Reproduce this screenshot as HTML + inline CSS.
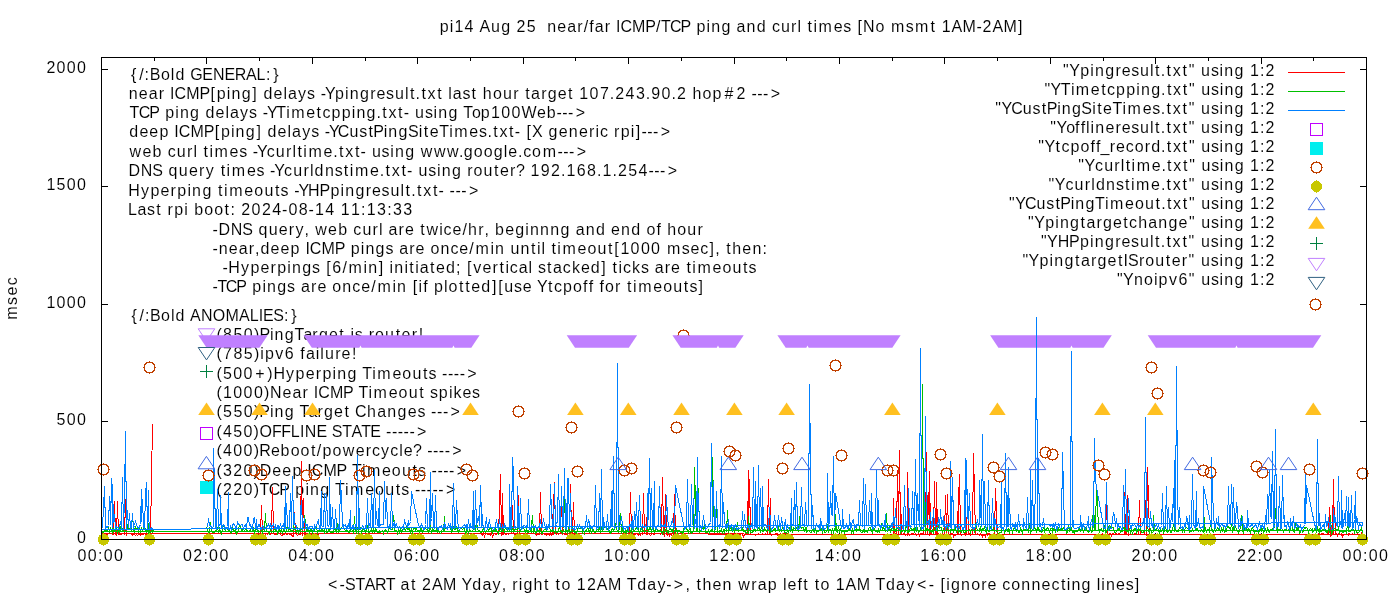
<!DOCTYPE html>
<html><head><meta charset="utf-8"><title>pi14 ping plot</title>
<style>html,body{margin:0;padding:0;background:#fff}svg{display:block}text{font-family:"Liberation Sans",sans-serif;font-size:16px;fill:#000;white-space:pre;stroke:#fff;stroke-width:0.08px;paint-order:fill stroke}svg{filter:grayscale(0)}g.tx{opacity:0.999}</style>
</head><body>
<svg width="1400" height="600" viewBox="0 0 1400 600">
<rect x="0" y="0" width="1400" height="600" fill="#fff"/>
<g stroke="#000" stroke-width="1" shape-rendering="crispEdges">
<line x1="101.5" y1="539.5" x2="101.5" y2="533.0"/>
<line x1="101.5" y1="57.5" x2="101.5" y2="64.0"/>
<line x1="154.2" y1="57.5" x2="154.2" y2="61.0"/>
<line x1="206.9" y1="539.5" x2="206.9" y2="533.0"/>
<line x1="206.9" y1="57.5" x2="206.9" y2="64.0"/>
<line x1="259.6" y1="57.5" x2="259.6" y2="61.0"/>
<line x1="312.3" y1="539.5" x2="312.3" y2="533.0"/>
<line x1="312.3" y1="57.5" x2="312.3" y2="64.0"/>
<line x1="365.0" y1="57.5" x2="365.0" y2="61.0"/>
<line x1="417.8" y1="539.5" x2="417.8" y2="533.0"/>
<line x1="417.8" y1="57.5" x2="417.8" y2="64.0"/>
<line x1="470.5" y1="57.5" x2="470.5" y2="61.0"/>
<line x1="523.2" y1="539.5" x2="523.2" y2="533.0"/>
<line x1="523.2" y1="57.5" x2="523.2" y2="64.0"/>
<line x1="575.9" y1="57.5" x2="575.9" y2="61.0"/>
<line x1="628.6" y1="539.5" x2="628.6" y2="533.0"/>
<line x1="628.6" y1="57.5" x2="628.6" y2="64.0"/>
<line x1="681.3" y1="57.5" x2="681.3" y2="61.0"/>
<line x1="734.0" y1="539.5" x2="734.0" y2="533.0"/>
<line x1="734.0" y1="57.5" x2="734.0" y2="64.0"/>
<line x1="786.7" y1="57.5" x2="786.7" y2="61.0"/>
<line x1="839.4" y1="539.5" x2="839.4" y2="533.0"/>
<line x1="839.4" y1="57.5" x2="839.4" y2="64.0"/>
<line x1="892.1" y1="57.5" x2="892.1" y2="61.0"/>
<line x1="944.8" y1="539.5" x2="944.8" y2="533.0"/>
<line x1="944.8" y1="57.5" x2="944.8" y2="64.0"/>
<line x1="997.5" y1="57.5" x2="997.5" y2="61.0"/>
<line x1="1050.2" y1="539.5" x2="1050.2" y2="533.0"/>
<line x1="1050.2" y1="57.5" x2="1050.2" y2="64.0"/>
<line x1="1103.0" y1="57.5" x2="1103.0" y2="61.0"/>
<line x1="1155.7" y1="539.5" x2="1155.7" y2="533.0"/>
<line x1="1155.7" y1="57.5" x2="1155.7" y2="64.0"/>
<line x1="1208.4" y1="57.5" x2="1208.4" y2="61.0"/>
<line x1="1261.1" y1="539.5" x2="1261.1" y2="533.0"/>
<line x1="1261.1" y1="57.5" x2="1261.1" y2="64.0"/>
<line x1="1313.8" y1="57.5" x2="1313.8" y2="61.0"/>
<line x1="1366.5" y1="539.5" x2="1366.5" y2="533.0"/>
<line x1="1366.5" y1="57.5" x2="1366.5" y2="64.0"/>
<line x1="101.5" y1="539.5" x2="108.0" y2="539.5"/>
<line x1="1366.5" y1="539.5" x2="1360.0" y2="539.5"/>
<line x1="101.5" y1="421.5" x2="108.0" y2="421.5"/>
<line x1="1366.5" y1="421.5" x2="1360.0" y2="421.5"/>
<line x1="101.5" y1="304.5" x2="108.0" y2="304.5"/>
<line x1="1366.5" y1="304.5" x2="1360.0" y2="304.5"/>
<line x1="101.5" y1="186.5" x2="108.0" y2="186.5"/>
<line x1="1366.5" y1="186.5" x2="1360.0" y2="186.5"/>
<line x1="101.5" y1="69.5" x2="108.0" y2="69.5"/>
<line x1="1366.5" y1="69.5" x2="1360.0" y2="69.5"/>
</g>
<g class="tx">
<text y="80.0" x="130.9 139.2 144.6 149.7 161.0 170.8 175.5 190.2 202.3 213.0 224.5 234.7 245.9 256.4 265.9 273.2">{/:BoldGENERAL:}</text>
<text y="98.8" x="128.7 138.8 148.7 158.8 170.1 174.6 186.3 199.5 210.6 216.7 226.7 231.4 241.7 252.2 263.4 273.5 283.4 287.9 298.1 307.1 320.7 325.0 335.0 345.0 349.7 360.0 370.2 376.5 386.0 394.9 404.9 409.9 415.6 421.4 427.6 437.3 448.3 452.8 462.4 471.6 482.8 492.9 502.9 513.2 525.2 531.1 541.2 547.7 557.7 568.1 579.3 589.6 599.9 609.8 615.3 625.6 635.9 645.8 651.3 661.6 671.5 677.0 692.4 702.5 712.6 724.5 736.4 751.4 757.2 763.1 770.7">nearICMP[ping]delays-Ypingresult.txtlasthourtarget107.243.90.2hop#2---&gt;</text>
<text y="118.1" x="129.6 138.8 149.2 165.2 175.2 179.9 190.1 205.5 215.6 225.5 230.0 240.1 249.1 262.7 266.9 276.2 286.2 291.2 306.2 316.6 322.4 331.5 341.7 351.7 356.4 366.6 376.5 382.3 388.4 398.1 403.7 415.1 424.9 433.5 438.2 448.4 463.2 472.1 480.8 491.0 501.3 511.5 521.5 537.1 546.7 556.5 562.3 568.1 575.8">TCPpingdelays-YTimetcpping.txt-usingTop100Web---&gt;</text>
<text y="137.4" x="129.3 139.4 149.3 159.4 174.3 178.8 190.5 203.7 214.8 220.9 230.9 235.6 245.8 256.4 267.5 277.6 287.5 292.1 302.2 311.2 324.8 329.0 337.8 349.4 359.2 368.4 373.3 383.8 388.3 398.5 407.9 418.8 423.8 429.7 439.2 449.2 454.2 469.3 478.9 487.4 493.2 499.4 509.1 514.7 526.4 531.9 548.6 558.7 568.8 578.9 589.0 595.4 599.9 614.1 620.8 630.8 635.8 641.4 647.2 653.1 660.8">deepICMP[ping]delays-YCustPingSiteTimes.txt-[Xgenericrpi]---&gt;</text>
<text y="156.7" x="129.6 142.5 152.6 167.7 176.8 187.0 193.5 203.5 209.4 214.6 229.6 239.2 252.8 257.0 266.8 275.8 286.1 292.5 297.4 303.3 308.5 323.5 333.3 339.0 345.2 354.9 360.5 371.9 381.6 390.3 394.9 405.2 420.7 433.9 447.1 459.0 463.7 473.8 483.7 493.7 503.7 508.3 518.0 523.2 532.1 542.7 557.5 563.3 569.1 576.8">webcurltimes-Ycurltime.txt-usingwww.google.com---&gt;</text>
<text y="176.0" x="128.4 140.7 152.3 168.6 178.8 188.9 199.0 205.8 220.7 226.6 231.8 246.9 256.5 270.1 274.3 284.1 293.2 303.5 309.9 314.6 324.9 334.7 343.8 349.7 354.9 370.0 379.8 385.5 391.7 401.5 407.1 418.5 428.3 437.0 441.7 451.9 467.3 473.6 483.5 494.1 500.0 510.1 515.9 530.5 540.8 551.1 561.0 566.5 576.8 587.1 597.0 602.5 612.5 617.9 628.2 638.5 648.4 654.2 660.1 667.7">DNSquerytimes-Ycurldnstime.txt-usingrouter?192.168.1.254---&gt;</text>
<text y="195.7" x="128.2 140.9 150.4 160.5 170.6 177.3 187.4 192.1 202.4 218.1 224.0 229.2 244.3 254.3 264.4 274.9 280.5 294.2 298.4 308.1 319.5 330.4 340.5 345.2 355.5 365.7 372.1 381.6 390.5 400.5 405.5 411.3 417.0 423.2 433.0 438.6 449.6 455.5 461.3 469.0">Hyperpingtimeouts-YHPpingresult.txt----&gt;</text>
<text y="214.6" x="128.0 137.5 147.1 156.3 167.5 174.2 184.3 194.2 204.3 214.2 224.6 230.5 241.3 251.6 261.9 272.2 282.1 288.4 298.7 308.6 314.9 325.2 340.7 351.0 361.1 366.8 377.1 387.2 392.9 403.2">Lastrpiboot:2024-08-1411:13:33</text>
<text y="235.0" x="212.5 218.4 230.7 242.2 258.4 268.7 278.7 288.8 295.5 304.6 315.3 328.1 338.2 353.3 362.4 372.6 379.0 388.6 398.6 404.9 420.2 426.4 439.2 443.6 452.6 462.5 468.0 478.2 484.5 495.1 505.2 515.2 525.2 529.9 540.1 550.3 560.5 575.7 585.7 595.9 611.1 621.1 631.3 646.5 656.5 667.3 677.3 687.3 697.5">-DNSquery,webcurlaretwice/hr,beginnngandendofhour</text>
<text y="254.0" x="212.5 218.7 228.8 238.7 248.7 255.0 260.5 270.6 280.5 290.5 305.4 309.8 321.5 334.7 350.7 360.7 365.4 375.6 385.4 399.2 409.2 415.5 430.4 440.4 450.4 459.3 469.3 475.4 490.4 495.0 510.4 520.6 531.1 536.9 541.4 551.5 557.3 562.5 577.6 587.5 597.5 608.0 614.3 620.4 630.6 640.9 651.1 667.0 681.7 690.4 700.3 709.6 715.3 726.2 732.2 742.3 752.4 762.4">-near,deepICMPpingsareonce/minuntiltimeout[1000msec],then:</text>
<text y="273.0" x="222.5 228.3 241.0 250.4 260.5 270.6 277.2 287.3 291.9 302.2 312.0 326.2 332.3 342.4 348.5 363.5 368.2 378.7 389.6 394.3 404.4 409.3 415.2 419.7 430.0 435.9 446.0 456.1 467.1 473.2 482.5 492.6 499.5 505.4 509.8 518.8 528.6 538.0 547.1 553.0 562.8 571.9 580.9 590.7 601.2 612.6 618.4 622.9 632.0 640.9 654.7 664.8 671.1 686.4 692.3 697.5 712.5 722.4 732.5 743.0 748.6">-Hyperpings[6/min]initiated;[verticalstacked]ticksaretimeouts</text>
<text y="292.0" x="212.5 217.4 225.8 236.3 252.3 262.4 267.1 277.3 287.1 301.0 311.0 317.4 332.2 342.3 352.3 361.3 371.2 377.4 392.4 397.1 412.7 418.6 423.2 434.1 444.1 448.6 459.0 465.3 471.2 481.3 491.9 498.2 504.2 514.0 522.7 536.9 548.1 553.9 563.1 573.1 583.1 588.7 599.4 605.0 615.0 627.1 633.0 638.2 653.3 663.2 673.2 683.8 689.4 698.5">-TCPpingsareonce/min[ifplotted][useYtcpofffortimeouts]</text>
<text y="320.7" x="131.4 139.6 144.9 149.9 161.1 170.9 175.5 190.1 201.0 212.8 225.5 239.1 249.8 258.8 263.1 273.2 284.0 291.3">{/:BoldANOMALIES:}</text>
<text y="339.8" x="216.5 223.1 233.5 243.8 253.9 259.4 269.9 274.5 284.8 294.5 303.5 312.3 318.9 328.9 339.3 350.4 354.7 368.8 375.1 385.1 395.7 401.6 411.8 418.8">(850)PingTargetisrouter!</text>
<text y="359.2" x="216.5 223.1 233.4 243.7 253.9 260.2 264.9 275.3 284.8 300.2 305.9 315.8 320.3 325.0 335.3 341.6 351.9">(785)ipv6failure!</text>
<text y="378.6" x="216.5 223.0 233.3 243.6 255.3 267.3 273.4 286.1 295.5 305.7 315.7 322.4 332.5 337.2 347.5 362.2 372.3 377.3 392.4 402.3 412.4 422.9 428.5 442.1 448.0 453.8 459.7 467.3">(500+)HyperpingTimeouts----&gt;</text>
<text y="398.0" x="216.5 223.0 233.3 243.6 253.9 264.0 270.1 282.4 292.4 302.4 313.7 318.2 330.0 343.1 358.5 368.6 373.6 388.7 398.6 408.7 419.2 429.9 438.8 448.9 453.6 462.5 471.9">(1000)NearICMPTimeoutspikes</text>
<text y="417.4" x="216.5 223.1 233.4 243.8 253.9 259.3 269.9 274.4 284.7 299.6 308.6 317.4 324.0 334.0 344.4 354.9 367.0 377.2 387.3 397.6 407.8 417.5 431.1 437.0 442.9 450.6">(550)PingTargetChanges---&gt;</text>
<text y="436.8" x="216.5 223.0 233.3 243.6 253.6 259.6 271.9 281.2 290.8 299.9 304.8 316.4 331.7 342.2 351.6 361.3 370.2 386.1 391.9 397.7 403.6 409.4 417.1">(450)OFFLINESTATE-----&gt;</text>
<text y="456.2" x="216.5 223.0 233.3 243.6 253.7 259.3 270.9 280.6 290.7 300.6 310.9 316.8 322.5 332.5 342.8 355.7 365.8 372.0 381.1 390.3 399.2 403.8 413.0 427.2 433.0 438.8 444.7 452.3">(400)Reboot/powercycle?----&gt;</text>
<text y="475.6" x="216.5 223.0 233.3 243.5 253.6 259.8 272.3 282.3 292.4 307.2 311.7 323.4 336.5 351.9 361.9 366.9 381.9 391.8 401.9 412.4 418.0 431.5 437.4 443.2 449.0 456.7">(320)DeepICMPTimeouts----&gt;</text>
<text y="495.0" x="216.5 223.0 233.3 243.6 253.7 259.6 268.8 279.3 295.3 305.4 310.1 320.3 335.1 345.1 350.1 365.2 375.1 385.2 395.7 401.3 414.9 420.8 426.6 432.4 438.3 445.9">(220)TCPpingTimeouts-----&gt;</text>
</g>
<text y="31.5" x="439.7 449.7 454.4 464.6 479.5 491.0 501.2 516.5 526.8 547.2 557.3 567.2 577.2 583.7 589.2 594.7 604.8 616.0 620.5 632.1 645.3 655.9 660.9 670.1 680.5 696.5 706.5 711.2 721.4 736.5 746.6 756.8 771.9 780.9 791.1 797.6 807.6 813.5 818.6 833.7 843.2 857.5 863.1 875.4 891.0 905.7 915.1 930.5 941.7 951.4 962.5 976.4 982.6 992.4 1003.5 1018.0">pi14Aug25near/farICMP/TCPpingandcurltimes[Nomsmt1AM-2AM]</text>
<text y="589.5" x="327.9 339.6 344.9 355.4 364.8 374.9 385.7 400.6 410.9 422.1 431.9 443.0 461.4 472.3 482.4 492.6 501.7 512.3 518.7 523.4 533.6 544.1 555.6 561.5 576.7 586.9 596.7 607.9 626.7 637.2 647.2 657.4 666.3 673.8 685.6 696.4 702.5 712.6 722.6 738.2 751.2 757.7 767.7 782.9 787.4 797.5 803.3 814.7 820.5 835.7 845.5 856.7 875.5 885.9 896.0 906.2 917.1 928.7 940.4 946.2 950.9 961.1 971.2 981.2 987.5 1002.3 1011.3 1021.3 1031.6 1041.6 1051.5 1060.9 1066.7 1071.4 1081.6 1096.8 1101.3 1106.0 1116.1 1125.7 1134.8">&lt;-STARTat2AMYday,rightto12AMTday-&gt;,thenwrapleftto1AMTday&lt;-[ignoreconnectinglines]</text>
<text y="561.3" x="77.5 87.8 98.0 103.7 114.0">00:00</text>
<text y="561.3" x="182.9 193.2 203.4 209.1 219.5">02:00</text>
<text y="561.3" x="288.3 298.7 308.8 314.5 324.9">04:00</text>
<text y="561.3" x="393.7 404.1 414.2 419.9 430.3">06:00</text>
<text y="561.3" x="499.1 509.5 519.6 525.3 535.7">08:00</text>
<text y="561.3" x="603.9 614.4 624.7 630.5 641.0">10:00</text>
<text y="561.3" x="709.3 719.9 730.1 735.9 746.5">12:00</text>
<text y="561.3" x="814.8 825.3 835.5 841.4 851.9">14:00</text>
<text y="561.3" x="920.2 930.7 941.0 946.8 957.3">16:00</text>
<text y="561.3" x="1025.6 1036.1 1046.4 1052.2 1062.7">18:00</text>
<text y="561.3" x="1131.5 1141.9 1152.1 1157.8 1168.2">20:00</text>
<text y="561.3" x="1237.0 1247.3 1257.5 1263.2 1273.6">22:00</text>
<text y="561.3" x="1342.5 1352.8 1363.0 1368.7 1379.0">00:00</text>
<text y="542.9" x="76.9">0</text>
<text y="424.9" x="56.6 66.7 76.9">500</text>
<text y="307.9" x="46.4 56.6 66.7 76.9">1000</text>
<text y="189.9" x="46.4 56.6 66.7 76.9">1500</text>
<text y="72.9" x="46.4 56.6 66.7 76.9">2000</text>
<text transform="translate(16.6,298.5) rotate(-90)" x="-21.2" y="0" textLength="42.4" lengthAdjust="spacing">msec</text>
<polyline points="255.5,533.5 256.5,534.5 256.5,534.5 257.5,533.5 258.5,534.5 259.5,533.5 260.5,534.5 261.5,505.5 262.5,533.5 263.5,534.5 264.5,535.5 264.5,536.5 265.5,534.5 266.5,533.5 267.5,534.5 268.5,533.5 269.5,534.5 270.5,534.5 271.5,533.5 271.5,533.5 272.5,487.5 273.5,533.5 274.5,534.5 275.5,534.5 276.5,534.5 277.5,533.5 278.5,533.5 278.5,533.5 279.5,533.5 280.5,534.5 281.5,535.5 282.5,535.5 283.5,533.5 284.5,534.5 285.5,533.5 285.5,533.5 286.5,534.5 287.5,534.5 288.5,533.5 289.5,534.5 290.5,534.5 291.5,534.5 292.5,536.5 293.5,536.5 293.5,533.5 294.5,512.5 295.5,533.5 296.5,534.5 297.5,535.5 298.5,534.5 299.5,534.5 300.5,533.5 300.5,534.5 301.5,461.5 302.5,535.5 303.5,498.5 304.5,535.5 305.5,533.5 306.5,535.5 307.5,535.5 307.5,534.5 308.5,533.5 309.5,534.5 310.5,534.5 311.5,534.5 312.5,535.5 313.5,534.5 314.5,533.5 314.5,534.5 315.5,536.5 316.5,535.5 317.5,533.5 318.5,534.5 319.5,533.5 480.5,533.5 481.5,533.5 481.5,534.5 482.5,535.5 483.5,533.5 484.5,536.5 485.5,533.5 486.5,533.5 487.5,534.5 488.5,533.5 488.5,534.5 489.5,534.5 490.5,535.5 491.5,533.5 492.5,536.5 493.5,534.5 494.5,533.5 495.5,534.5 495.5,534.5 496.5,534.5 497.5,533.5 498.5,533.5 499.5,505.5 500.5,474.5 501.5,535.5 502.5,533.5 502.5,493.5 503.5,534.5 504.5,533.5 505.5,534.5 506.5,534.5 507.5,533.5 508.5,534.5 509.5,533.5 509.5,533.5 510.5,533.5 511.5,533.5 512.5,505.5 513.5,533.5 514.5,534.5 515.5,534.5 516.5,533.5 517.5,534.5 517.5,534.5 518.5,495.5 519.5,533.5 520.5,534.5 521.5,533.5 535.5,533.5 536.5,535.5 537.5,534.5 538.5,533.5 538.5,534.5 539.5,534.5 540.5,492.5 541.5,534.5 542.5,534.5 543.5,533.5 544.5,534.5 545.5,533.5 546.5,535.5 546.5,534.5 547.5,534.5 548.5,534.5 549.5,535.5 550.5,533.5 551.5,535.5 552.5,534.5 553.5,494.5 553.5,534.5 554.5,482.5 555.5,533.5 556.5,534.5 557.5,533.5 558.5,534.5 559.5,533.5 560.5,533.5 560.5,533.5 561.5,498.5 562.5,534.5 563.5,533.5 564.5,534.5 565.5,534.5 566.5,534.5 567.5,533.5 567.5,535.5 568.5,536.5 569.5,534.5 570.5,484.5 571.5,534.5 572.5,533.5 573.5,502.5 574.5,536.5 574.5,534.5 575.5,533.5 576.5,534.5 577.5,533.5 626.5,533.5 627.5,533.5 628.5,533.5 629.5,534.5 630.5,492.5 631.5,534.5 632.5,535.5 632.5,535.5 633.5,533.5 634.5,534.5 635.5,534.5 636.5,533.5 637.5,534.5 638.5,535.5 639.5,533.5 640.5,535.5 640.5,533.5 641.5,533.5 642.5,534.5 643.5,493.5 644.5,533.5 645.5,533.5 646.5,534.5 647.5,500.5 647.5,534.5 648.5,533.5 649.5,534.5 650.5,535.5 651.5,534.5 652.5,533.5 653.5,534.5 654.5,534.5 654.5,533.5 655.5,533.5 656.5,533.5 657.5,533.5 658.5,533.5 659.5,533.5 660.5,534.5 661.5,533.5 661.5,533.5 662.5,477.5 663.5,533.5 664.5,536.5 665.5,494.5 666.5,533.5 667.5,535.5 668.5,534.5 668.5,533.5 669.5,535.5 670.5,533.5 671.5,534.5 672.5,536.5 673.5,533.5 674.5,494.5 675.5,534.5 676.5,534.5 676.5,533.5 738.5,534.5 739.5,534.5 740.5,534.5 741.5,533.5 741.5,533.5 742.5,534.5 743.5,536.5 744.5,534.5 745.5,533.5 746.5,534.5 747.5,534.5 748.5,470.5 748.5,533.5 749.5,479.5 750.5,534.5 751.5,534.5 752.5,534.5 753.5,534.5 754.5,534.5 755.5,535.5 755.5,534.5 756.5,534.5 757.5,534.5 758.5,533.5 759.5,534.5 760.5,534.5 761.5,534.5 762.5,533.5 762.5,534.5 763.5,534.5 764.5,534.5 765.5,533.5 766.5,534.5 767.5,533.5 768.5,479.5 769.5,533.5 770.5,498.5 770.5,534.5 771.5,535.5 772.5,534.5 773.5,534.5 774.5,534.5 775.5,533.5 776.5,533.5 777.5,535.5 777.5,533.5 778.5,534.5 779.5,536.5 780.5,533.5 781.5,534.5 782.5,534.5 783.5,533.5 784.5,534.5 784.5,533.5 785.5,533.5 786.5,533.5 787.5,533.5 788.5,533.5 789.5,534.5 890.5,534.5 891.5,534.5 892.5,534.5 893.5,534.5 893.5,498.5 894.5,534.5 895.5,533.5 896.5,534.5 897.5,470.5 898.5,533.5 899.5,450.5 900.5,533.5 900.5,492.5 901.5,534.5 902.5,534.5 903.5,533.5 904.5,533.5 905.5,535.5 906.5,534.5 907.5,535.5 907.5,472.5 908.5,533.5 909.5,535.5 910.5,534.5 911.5,533.5 912.5,533.5 913.5,533.5 914.5,534.5 914.5,534.5 915.5,533.5 916.5,535.5 917.5,534.5 918.5,533.5 919.5,535.5 920.5,533.5 921.5,533.5 921.5,534.5 922.5,533.5 923.5,534.5 924.5,493.5 925.5,534.5 926.5,452.5 927.5,534.5 928.5,492.5 929.5,535.5 929.5,471.5 930.5,534.5 931.5,533.5 932.5,534.5 933.5,534.5 934.5,481.5 935.5,534.5 936.5,533.5 936.5,482.5 937.5,534.5 938.5,533.5 939.5,534.5 940.5,534.5 941.5,534.5 942.5,533.5 943.5,534.5 943.5,534.5 944.5,534.5 945.5,495.5 946.5,533.5 947.5,494.5 948.5,534.5 949.5,534.5 950.5,533.5 950.5,534.5 951.5,533.5 952.5,533.5 953.5,536.5 954.5,534.5 955.5,535.5 956.5,534.5 957.5,534.5 958.5,487.5 958.5,534.5 959.5,474.5 960.5,534.5 961.5,535.5 962.5,534.5 963.5,534.5 964.5,533.5 965.5,533.5 965.5,535.5 966.5,534.5 967.5,500.5 968.5,534.5 969.5,533.5 970.5,535.5 971.5,534.5 972.5,534.5 972.5,533.5 973.5,453.5 974.5,493.5 975.5,534.5 976.5,534.5 977.5,533.5 978.5,534.5 979.5,534.5 979.5,535.5 980.5,533.5 981.5,534.5 982.5,536.5 983.5,534.5 984.5,534.5 985.5,536.5 986.5,533.5 987.5,535.5 987.5,533.5 988.5,533.5 989.5,533.5 990.5,535.5 991.5,534.5 992.5,534.5 993.5,534.5 994.5,533.5 994.5,534.5 995.5,488.5 996.5,512.5 997.5,534.5 998.5,533.5 999.5,534.5 1100.5,534.5 1101.5,534.5 1102.5,533.5 1102.5,536.5 1103.5,534.5 1104.5,534.5 1105.5,534.5 1106.5,505.5 1107.5,534.5 1108.5,534.5 1109.5,533.5 1109.5,533.5 1110.5,533.5 1111.5,535.5 1112.5,533.5 1113.5,533.5 1114.5,534.5 1115.5,533.5 1116.5,533.5 1117.5,534.5 1117.5,534.5 1118.5,533.5 1119.5,533.5 1120.5,534.5 1121.5,534.5 1122.5,534.5 1123.5,534.5 1124.5,534.5 1124.5,492.5 1125.5,533.5 1126.5,534.5 1127.5,495.5 1128.5,535.5 1129.5,534.5 1130.5,533.5 1131.5,534.5 1131.5,534.5 1132.5,533.5 1133.5,534.5 1134.5,533.5 1135.5,533.5 1136.5,533.5 1137.5,534.5 1138.5,534.5 1138.5,534.5 1139.5,500.5 1140.5,534.5 1141.5,534.5 1142.5,534.5 1143.5,534.5 1144.5,533.5 1145.5,500.5 1146.5,534.5 1146.5,535.5 1147.5,467.5 1148.5,500.5 1149.5,533.5 1150.5,534.5 1151.5,534.5 1317.5,534.5 1318.5,533.5 1319.5,533.5 1319.5,533.5 1320.5,534.5 1321.5,533.5 1322.5,533.5 1323.5,533.5 1324.5,534.5 1325.5,534.5 1326.5,534.5 1326.5,534.5 1327.5,533.5 1328.5,534.5 1329.5,507.5 1330.5,536.5 1331.5,534.5 1332.5,533.5 1333.5,479.5 1333.5,534.5 1334.5,507.5 1335.5,533.5 1336.5,533.5 1337.5,535.5 1338.5,533.5 1339.5,534.5 1340.5,534.5 1341.5,535.5 1341.5,533.5 1342.5,536.5 1343.5,534.5 1344.5,534.5 1345.5,534.5 1346.5,533.5 1347.5,534.5 1348.5,533.5 1348.5,535.5 1349.5,533.5 1350.5,534.5 1351.5,534.5 1352.5,533.5 1353.5,534.5 1354.5,533.5 1355.5,534.5 1355.5,534.5 1356.5,534.5 1357.5,533.5 1358.5,534.5 1359.5,534.5 1360.5,535.5 1361.5,533.5 1362.5,535.5 1362.5,534.5 101.5,533.5 102.5,533.5 103.5,534.5 104.5,535.5 105.5,535.5 105.5,535.5 106.5,534.5 107.5,534.5 108.5,533.5 109.5,533.5 110.5,533.5 111.5,533.5 112.5,534.5 112.5,534.5 113.5,534.5 114.5,501.5 115.5,533.5 116.5,535.5 117.5,501.5 118.5,534.5 119.5,534.5 119.5,533.5 120.5,534.5 121.5,534.5 122.5,533.5 123.5,533.5 124.5,534.5 125.5,499.5 126.5,535.5 126.5,533.5 127.5,533.5 128.5,533.5 129.5,533.5 130.5,533.5 131.5,534.5 132.5,535.5 133.5,533.5 134.5,533.5 134.5,534.5 135.5,535.5 136.5,534.5 137.5,535.5 138.5,534.5 139.5,534.5 140.5,535.5 141.5,533.5 141.5,533.5 142.5,534.5 143.5,534.5 144.5,533.5 145.5,534.5 146.5,534.5 147.5,533.5 148.5,535.5 148.5,534.5 149.5,533.5 150.5,534.5 151.5,479.5 152.5,424.5" fill="none" stroke="#ff0000" stroke-width="1" shape-rendering="crispEdges"/>
<polyline points="206.5,527.5 207.5,528.5 208.5,533.5 209.5,531.5 210.5,522.5 211.5,531.5 212.5,532.5 213.5,532.5 213.5,532.5 214.5,532.5 215.5,530.5 216.5,531.5 217.5,527.5 218.5,532.5 219.5,528.5 220.5,531.5 220.5,531.5 221.5,533.5 222.5,530.5 223.5,524.5 224.5,529.5 225.5,530.5 226.5,527.5 227.5,528.5 228.5,531.5 228.5,527.5 229.5,530.5 230.5,532.5 231.5,533.5 232.5,527.5 233.5,529.5 234.5,531.5 235.5,532.5 235.5,528.5 236.5,533.5 237.5,531.5 238.5,530.5 239.5,524.5 240.5,528.5 241.5,529.5 242.5,531.5 242.5,528.5 243.5,529.5 244.5,530.5 245.5,529.5 246.5,529.5 247.5,531.5 248.5,531.5 249.5,530.5 249.5,530.5 250.5,531.5 251.5,527.5 252.5,530.5 253.5,528.5 254.5,532.5 255.5,530.5 256.5,528.5 256.5,526.5 257.5,528.5 258.5,532.5 259.5,531.5 260.5,531.5 261.5,530.5 262.5,532.5 263.5,527.5 264.5,530.5 264.5,528.5 265.5,513.5 266.5,531.5 267.5,531.5 268.5,531.5 269.5,533.5 270.5,529.5 271.5,532.5 271.5,531.5 272.5,531.5 273.5,532.5 274.5,528.5 275.5,530.5 276.5,529.5 277.5,533.5 278.5,531.5 278.5,531.5 279.5,529.5 280.5,531.5 281.5,529.5 282.5,532.5 283.5,529.5 284.5,529.5 285.5,532.5 285.5,531.5 286.5,530.5 287.5,524.5 288.5,530.5 289.5,528.5 290.5,530.5 291.5,530.5 292.5,530.5 293.5,529.5 293.5,524.5 294.5,529.5 295.5,528.5 296.5,531.5 297.5,528.5 298.5,532.5 299.5,529.5 300.5,529.5 300.5,530.5 301.5,529.5 302.5,529.5 303.5,528.5 304.5,515.5 305.5,522.5 306.5,531.5 307.5,531.5 307.5,528.5 308.5,530.5 309.5,532.5 310.5,528.5 311.5,528.5 312.5,532.5 313.5,530.5 314.5,530.5 314.5,529.5 315.5,528.5 316.5,527.5 317.5,532.5 318.5,530.5 319.5,529.5 320.5,531.5 321.5,531.5 321.5,528.5 322.5,530.5 323.5,530.5 324.5,532.5 325.5,523.5 326.5,532.5 327.5,532.5 328.5,529.5 329.5,530.5 329.5,529.5 330.5,532.5 331.5,532.5 332.5,532.5 333.5,532.5 334.5,527.5 335.5,529.5 336.5,527.5 336.5,532.5 337.5,523.5 338.5,531.5 339.5,529.5 340.5,529.5 341.5,527.5 342.5,528.5 343.5,528.5 343.5,526.5 344.5,529.5 345.5,530.5 346.5,530.5 347.5,530.5 348.5,532.5 349.5,532.5 350.5,527.5 350.5,530.5 351.5,531.5 352.5,530.5 353.5,532.5 354.5,516.5 355.5,530.5 356.5,532.5 357.5,527.5 358.5,531.5 358.5,533.5 359.5,527.5 360.5,527.5 361.5,532.5 362.5,530.5 363.5,528.5 364.5,528.5 365.5,532.5 365.5,532.5 366.5,528.5 367.5,525.5 368.5,532.5 369.5,532.5 370.5,531.5 371.5,529.5 372.5,532.5 372.5,531.5 373.5,528.5 374.5,532.5 375.5,528.5 376.5,530.5 377.5,532.5 378.5,532.5 379.5,530.5 379.5,532.5 380.5,532.5 381.5,531.5 382.5,530.5 383.5,533.5 384.5,530.5 385.5,529.5 386.5,531.5 387.5,532.5 387.5,533.5 388.5,530.5 389.5,527.5 390.5,529.5 391.5,529.5 392.5,529.5 393.5,515.5 394.5,524.5 394.5,529.5 395.5,531.5 396.5,530.5 397.5,533.5 398.5,530.5 399.5,532.5 400.5,528.5 401.5,532.5 401.5,532.5 402.5,531.5 403.5,527.5 404.5,528.5 405.5,530.5 406.5,527.5 407.5,529.5 408.5,529.5 408.5,528.5 409.5,528.5 410.5,532.5 411.5,529.5 412.5,532.5 413.5,527.5 414.5,528.5 415.5,528.5 415.5,530.5 416.5,528.5 417.5,531.5 418.5,530.5 419.5,532.5 420.5,528.5 421.5,528.5 422.5,532.5 423.5,531.5 423.5,527.5 424.5,529.5 425.5,528.5 426.5,529.5 427.5,528.5 428.5,532.5 429.5,528.5 430.5,529.5 430.5,525.5 431.5,533.5 432.5,528.5 433.5,529.5 434.5,531.5 435.5,531.5 436.5,529.5 437.5,532.5 437.5,529.5 438.5,529.5 439.5,532.5 440.5,533.5 441.5,532.5 442.5,527.5 443.5,531.5 444.5,516.5 444.5,530.5 445.5,527.5 446.5,527.5 447.5,528.5 448.5,527.5 449.5,527.5 450.5,528.5 451.5,531.5 452.5,529.5 452.5,530.5 453.5,527.5 454.5,529.5 455.5,529.5 456.5,527.5 457.5,529.5 458.5,531.5 459.5,529.5 459.5,530.5 460.5,527.5 461.5,528.5 462.5,529.5 463.5,528.5 464.5,528.5 465.5,533.5 466.5,532.5 466.5,527.5 467.5,529.5 468.5,533.5 469.5,528.5 470.5,531.5 471.5,531.5 472.5,530.5 473.5,529.5 473.5,529.5 474.5,527.5 475.5,529.5 476.5,521.5 477.5,528.5 478.5,531.5 479.5,530.5 480.5,532.5 481.5,532.5 481.5,532.5 482.5,531.5 483.5,527.5 484.5,531.5 485.5,532.5 486.5,530.5 487.5,531.5 488.5,530.5 488.5,531.5 489.5,527.5 490.5,528.5 491.5,528.5 492.5,532.5 493.5,530.5 494.5,529.5 495.5,531.5 495.5,527.5 496.5,531.5 497.5,531.5 498.5,533.5 499.5,529.5 500.5,527.5 501.5,531.5 502.5,530.5 502.5,529.5 503.5,528.5 504.5,531.5 505.5,527.5 506.5,529.5 507.5,530.5 508.5,528.5 509.5,530.5 509.5,531.5 510.5,528.5 511.5,530.5 512.5,527.5 513.5,531.5 514.5,530.5 515.5,528.5 516.5,529.5 517.5,529.5 517.5,528.5 518.5,528.5 519.5,529.5 520.5,530.5 521.5,527.5 522.5,528.5 523.5,528.5 524.5,529.5 524.5,529.5 525.5,532.5 526.5,528.5 527.5,532.5 528.5,532.5 529.5,527.5 530.5,531.5 531.5,532.5 531.5,524.5 532.5,515.5 533.5,532.5 534.5,529.5 535.5,533.5 536.5,532.5 537.5,529.5 538.5,531.5 538.5,531.5 539.5,532.5 540.5,528.5 541.5,533.5 542.5,533.5 543.5,530.5 544.5,529.5 545.5,529.5 546.5,530.5 546.5,531.5 547.5,527.5 548.5,527.5 549.5,527.5 550.5,530.5 551.5,530.5 552.5,529.5 553.5,531.5 553.5,530.5 554.5,532.5 555.5,530.5 556.5,532.5 557.5,532.5 558.5,529.5 559.5,527.5 560.5,527.5 560.5,528.5 561.5,532.5 562.5,533.5 563.5,528.5 564.5,492.5 565.5,532.5 566.5,527.5 567.5,533.5 567.5,531.5 568.5,528.5 569.5,532.5 570.5,532.5 571.5,530.5 572.5,527.5 573.5,530.5 574.5,532.5 574.5,529.5 575.5,532.5 576.5,533.5 577.5,529.5 578.5,527.5 579.5,528.5 580.5,528.5 581.5,527.5 582.5,529.5 582.5,533.5 583.5,528.5 584.5,533.5 585.5,530.5 586.5,531.5 587.5,527.5 588.5,529.5 589.5,531.5 589.5,531.5 590.5,529.5 591.5,532.5 592.5,529.5 593.5,529.5 594.5,532.5 595.5,532.5 596.5,530.5 596.5,529.5 597.5,529.5 598.5,530.5 599.5,527.5 600.5,532.5 601.5,527.5 602.5,530.5 603.5,528.5 603.5,527.5 604.5,527.5 605.5,527.5 606.5,527.5 607.5,529.5 608.5,529.5 609.5,531.5 610.5,533.5 611.5,532.5 611.5,529.5 612.5,528.5 613.5,530.5 614.5,528.5 615.5,523.5 616.5,529.5 617.5,530.5 618.5,529.5 618.5,532.5 619.5,530.5 620.5,513.5 621.5,533.5 622.5,528.5 623.5,532.5 624.5,532.5 625.5,532.5 625.5,530.5 626.5,532.5 627.5,528.5 628.5,532.5 629.5,531.5 630.5,532.5 631.5,527.5 632.5,533.5 632.5,532.5 633.5,529.5 634.5,530.5 635.5,529.5 636.5,527.5 637.5,528.5 638.5,528.5 639.5,533.5 640.5,528.5 640.5,528.5 641.5,527.5 642.5,529.5 643.5,531.5 644.5,531.5 645.5,530.5 646.5,529.5 647.5,528.5 647.5,527.5 648.5,531.5 649.5,527.5 650.5,527.5 651.5,531.5 652.5,528.5 653.5,528.5 654.5,532.5 654.5,531.5 655.5,531.5 656.5,527.5 657.5,530.5 658.5,530.5 659.5,530.5 660.5,529.5 661.5,532.5 661.5,531.5 662.5,533.5 663.5,529.5 664.5,532.5 665.5,529.5 666.5,528.5 667.5,531.5 668.5,533.5 668.5,532.5 669.5,527.5 670.5,529.5 671.5,529.5 672.5,531.5 673.5,526.5 674.5,532.5 675.5,530.5 676.5,529.5 676.5,528.5 677.5,532.5 678.5,530.5 679.5,530.5 680.5,532.5 681.5,531.5 682.5,533.5 683.5,531.5 683.5,528.5 684.5,527.5 685.5,527.5 686.5,529.5 687.5,529.5 688.5,532.5 689.5,527.5 690.5,529.5 690.5,531.5 691.5,533.5 692.5,532.5 693.5,531.5 694.5,467.5 695.5,500.5 696.5,530.5 697.5,531.5 697.5,531.5 698.5,488.5 699.5,532.5 700.5,530.5 701.5,529.5 702.5,528.5 703.5,529.5 704.5,525.5 705.5,532.5 705.5,529.5 706.5,532.5 707.5,532.5 708.5,530.5 709.5,532.5 710.5,530.5 711.5,529.5 712.5,531.5 712.5,457.5 713.5,500.5 714.5,532.5 715.5,530.5 716.5,502.5 717.5,532.5 718.5,531.5 719.5,530.5 719.5,532.5 720.5,531.5 721.5,529.5 722.5,532.5 723.5,530.5 724.5,533.5 725.5,525.5 726.5,528.5 726.5,531.5 727.5,510.5 728.5,532.5 729.5,527.5 730.5,528.5 731.5,527.5 732.5,531.5 733.5,527.5 734.5,525.5 734.5,532.5 735.5,528.5 736.5,527.5 737.5,522.5 738.5,531.5 739.5,530.5 740.5,530.5 741.5,529.5 741.5,528.5 742.5,527.5 743.5,531.5 744.5,531.5 745.5,531.5 746.5,533.5 747.5,532.5 748.5,533.5 748.5,516.5 749.5,529.5 750.5,532.5 751.5,532.5 752.5,532.5 753.5,530.5 754.5,527.5 755.5,531.5 755.5,529.5 756.5,530.5 757.5,529.5 758.5,527.5 759.5,527.5 760.5,532.5 761.5,526.5 762.5,531.5 762.5,528.5 763.5,530.5 764.5,528.5 765.5,530.5 766.5,531.5 767.5,529.5 768.5,527.5 769.5,532.5 770.5,527.5 770.5,532.5 771.5,531.5 772.5,531.5 773.5,529.5 774.5,528.5 775.5,530.5 776.5,525.5 777.5,529.5 777.5,529.5 778.5,527.5 779.5,531.5 780.5,527.5 781.5,530.5 782.5,527.5 783.5,528.5 784.5,529.5 784.5,532.5 785.5,532.5 786.5,533.5 787.5,530.5 788.5,532.5 789.5,527.5 790.5,531.5 791.5,530.5 791.5,524.5 792.5,532.5 793.5,527.5 794.5,528.5 795.5,529.5 796.5,527.5 797.5,528.5 798.5,531.5 799.5,516.5 799.5,528.5 800.5,525.5 801.5,528.5 802.5,527.5 803.5,527.5 804.5,531.5 805.5,527.5 806.5,527.5 806.5,532.5 807.5,530.5 808.5,530.5 809.5,531.5 810.5,532.5 811.5,532.5 812.5,529.5 813.5,528.5 813.5,531.5 814.5,532.5 815.5,529.5 816.5,532.5 817.5,530.5 818.5,531.5 819.5,528.5 820.5,529.5 820.5,529.5 821.5,528.5 822.5,532.5 823.5,529.5 824.5,532.5 825.5,532.5 826.5,531.5 827.5,530.5 827.5,524.5 828.5,531.5 829.5,529.5 830.5,529.5 831.5,532.5 832.5,529.5 833.5,532.5 834.5,528.5 835.5,529.5 835.5,514.5 836.5,531.5 837.5,532.5 838.5,525.5 839.5,532.5 840.5,528.5 841.5,532.5 842.5,530.5 842.5,531.5 843.5,530.5 844.5,532.5 845.5,530.5 846.5,531.5 847.5,531.5 848.5,530.5 849.5,528.5 849.5,530.5 850.5,527.5 851.5,532.5 852.5,529.5 853.5,533.5 854.5,527.5 855.5,530.5 856.5,531.5 856.5,528.5 857.5,530.5 858.5,530.5 859.5,527.5 860.5,531.5 861.5,532.5 862.5,532.5 863.5,530.5 864.5,532.5 864.5,528.5 865.5,531.5 866.5,531.5 867.5,532.5 868.5,528.5 869.5,527.5 870.5,527.5 871.5,531.5 871.5,529.5 872.5,532.5 873.5,527.5 874.5,528.5 875.5,531.5 876.5,530.5 877.5,532.5 878.5,531.5 878.5,528.5 879.5,532.5 880.5,528.5 881.5,523.5 882.5,529.5 883.5,527.5 884.5,528.5 885.5,531.5 885.5,531.5 886.5,513.5 887.5,531.5 888.5,530.5 889.5,527.5 890.5,531.5 891.5,528.5 892.5,528.5 893.5,528.5 893.5,529.5 894.5,528.5 895.5,530.5 896.5,528.5 897.5,528.5 898.5,528.5 899.5,527.5 900.5,529.5 900.5,533.5 901.5,530.5 902.5,531.5 903.5,528.5 904.5,532.5 905.5,531.5 906.5,523.5 907.5,531.5 907.5,532.5 908.5,532.5 909.5,530.5 910.5,527.5 911.5,529.5 912.5,530.5 913.5,528.5 914.5,528.5 914.5,532.5 915.5,528.5 916.5,530.5 917.5,528.5 918.5,532.5 919.5,531.5 920.5,529.5 921.5,524.5 921.5,490.5 922.5,384.5 923.5,530.5 924.5,470.5 925.5,531.5 926.5,528.5 927.5,528.5 928.5,530.5 929.5,529.5 929.5,532.5 930.5,531.5 931.5,532.5 932.5,530.5 933.5,532.5 934.5,527.5 935.5,528.5 936.5,527.5 936.5,528.5 937.5,531.5 938.5,525.5 939.5,527.5 940.5,527.5 941.5,527.5 942.5,532.5 943.5,528.5 943.5,529.5 944.5,531.5 945.5,530.5 946.5,526.5 947.5,528.5 948.5,531.5 949.5,530.5 950.5,529.5 950.5,532.5 951.5,528.5 952.5,529.5 953.5,531.5 954.5,527.5 955.5,527.5 956.5,532.5 957.5,528.5 958.5,532.5 958.5,529.5 959.5,531.5 960.5,531.5 961.5,532.5 962.5,529.5 963.5,532.5 964.5,532.5 965.5,531.5 965.5,532.5 966.5,530.5 967.5,530.5 968.5,530.5 969.5,529.5 970.5,532.5 971.5,529.5 972.5,530.5 972.5,530.5 973.5,529.5 974.5,532.5 975.5,523.5 976.5,528.5 977.5,529.5 978.5,530.5 979.5,531.5 979.5,529.5 980.5,527.5 981.5,531.5 982.5,528.5 983.5,529.5 984.5,527.5 985.5,530.5 986.5,532.5 987.5,526.5 987.5,530.5 988.5,531.5 989.5,531.5 990.5,527.5 991.5,530.5 992.5,530.5 993.5,528.5 994.5,531.5 994.5,531.5 995.5,530.5 996.5,531.5 997.5,532.5 998.5,533.5 999.5,532.5 1000.5,532.5 1001.5,532.5 1001.5,528.5 1002.5,527.5 1003.5,529.5 1004.5,532.5 1005.5,530.5 1006.5,528.5 1007.5,530.5 1008.5,528.5 1008.5,529.5 1009.5,533.5 1010.5,524.5 1011.5,529.5 1012.5,532.5 1013.5,529.5 1014.5,527.5 1015.5,527.5 1015.5,530.5 1016.5,531.5 1017.5,527.5 1018.5,532.5 1019.5,532.5 1020.5,528.5 1021.5,530.5 1022.5,533.5 1023.5,528.5 1023.5,530.5 1024.5,529.5 1025.5,530.5 1026.5,528.5 1027.5,529.5 1028.5,532.5 1029.5,523.5 1030.5,528.5 1030.5,533.5 1031.5,530.5 1032.5,529.5 1033.5,530.5 1034.5,527.5 1035.5,529.5 1036.5,531.5 1037.5,527.5 1037.5,528.5 1038.5,527.5 1039.5,531.5 1040.5,531.5 1041.5,532.5 1042.5,530.5 1043.5,527.5 1044.5,527.5 1044.5,532.5 1045.5,529.5 1046.5,529.5 1047.5,527.5 1048.5,528.5 1049.5,531.5 1050.5,528.5 1051.5,528.5 1052.5,528.5 1052.5,532.5 1053.5,528.5 1054.5,529.5 1055.5,531.5 1056.5,527.5 1057.5,530.5 1058.5,528.5 1059.5,530.5 1059.5,530.5 1060.5,530.5 1061.5,528.5 1062.5,529.5 1063.5,527.5 1064.5,528.5 1065.5,529.5 1066.5,531.5 1066.5,533.5 1067.5,532.5 1068.5,525.5 1069.5,530.5 1070.5,528.5 1071.5,527.5 1072.5,532.5 1073.5,532.5 1073.5,530.5 1074.5,532.5 1075.5,530.5 1076.5,531.5 1077.5,531.5 1078.5,529.5 1079.5,528.5 1080.5,530.5 1080.5,530.5 1081.5,527.5 1082.5,529.5 1083.5,531.5 1084.5,528.5 1085.5,527.5 1086.5,529.5 1087.5,530.5 1088.5,532.5 1088.5,530.5 1089.5,531.5 1090.5,528.5 1091.5,532.5 1092.5,531.5 1093.5,499.5 1094.5,529.5 1095.5,530.5 1095.5,527.5 1096.5,485.5 1097.5,505.5 1098.5,527.5 1099.5,531.5 1100.5,529.5 1101.5,528.5 1102.5,531.5 1102.5,531.5 1103.5,531.5 1104.5,525.5 1105.5,532.5 1106.5,532.5 1107.5,529.5 1108.5,527.5 1109.5,529.5 1109.5,525.5 1110.5,527.5 1111.5,526.5 1112.5,527.5 1113.5,527.5 1114.5,532.5 1115.5,532.5 1116.5,531.5 1117.5,530.5 1117.5,527.5 1118.5,529.5 1119.5,528.5 1120.5,532.5 1121.5,531.5 1122.5,531.5 1123.5,527.5 1124.5,527.5 1124.5,529.5 1125.5,528.5 1126.5,531.5 1127.5,531.5 1128.5,532.5 1129.5,529.5 1130.5,532.5 1131.5,529.5 1131.5,530.5 1132.5,533.5 1133.5,530.5 1134.5,528.5 1135.5,528.5 1136.5,532.5 1137.5,530.5 1138.5,528.5 1138.5,529.5 1139.5,530.5 1140.5,527.5 1141.5,532.5 1142.5,532.5 1143.5,532.5 1144.5,530.5 1145.5,530.5 1146.5,531.5 1146.5,531.5 1147.5,527.5 1148.5,530.5 1149.5,533.5 1150.5,528.5 1151.5,532.5 1152.5,532.5 1153.5,531.5 1153.5,515.5 1154.5,530.5 1155.5,529.5 1156.5,529.5 1157.5,527.5 1158.5,530.5 1159.5,532.5 1160.5,527.5 1160.5,531.5 1161.5,531.5 1162.5,529.5 1163.5,532.5 1164.5,530.5 1165.5,527.5 1166.5,530.5 1167.5,532.5 1167.5,530.5 1168.5,531.5 1169.5,528.5 1170.5,532.5 1171.5,532.5 1172.5,529.5 1173.5,524.5 1174.5,528.5 1174.5,531.5 1175.5,529.5 1176.5,531.5 1177.5,531.5 1178.5,531.5 1179.5,527.5 1180.5,528.5 1181.5,529.5 1182.5,528.5 1182.5,532.5 1183.5,528.5 1184.5,531.5 1185.5,527.5 1186.5,527.5 1187.5,528.5 1188.5,527.5 1189.5,527.5 1189.5,532.5 1190.5,530.5 1191.5,531.5 1192.5,529.5 1193.5,531.5 1194.5,530.5 1195.5,529.5 1196.5,530.5 1196.5,528.5 1197.5,528.5 1198.5,531.5 1199.5,530.5 1200.5,531.5 1201.5,529.5 1202.5,530.5 1203.5,532.5 1203.5,502.5 1204.5,531.5 1205.5,528.5 1206.5,531.5 1207.5,529.5 1208.5,529.5 1209.5,531.5 1210.5,522.5 1211.5,530.5 1211.5,527.5 1212.5,531.5 1213.5,532.5 1214.5,528.5 1215.5,531.5 1216.5,530.5 1217.5,527.5 1218.5,528.5 1218.5,530.5 1219.5,527.5 1220.5,532.5 1221.5,527.5 1222.5,531.5 1223.5,527.5 1224.5,532.5 1225.5,531.5 1225.5,527.5 1226.5,530.5 1227.5,526.5 1228.5,526.5 1229.5,528.5 1230.5,529.5 1231.5,524.5 1232.5,529.5 1232.5,532.5 1233.5,527.5 1234.5,529.5 1235.5,526.5 1236.5,529.5 1237.5,530.5 1238.5,532.5 1239.5,530.5 1240.5,527.5 1240.5,527.5 1241.5,515.5 1242.5,529.5 1243.5,533.5 1244.5,528.5 1245.5,528.5 1246.5,527.5 1247.5,531.5 1247.5,529.5 1248.5,528.5 1249.5,530.5 1250.5,532.5 1251.5,528.5 1252.5,527.5 1253.5,530.5 1254.5,533.5 1254.5,532.5 1255.5,530.5 1256.5,531.5 1257.5,530.5 1258.5,532.5 1259.5,530.5 1260.5,528.5 1261.5,528.5 1261.5,531.5 1262.5,529.5 1263.5,532.5 1264.5,531.5 1265.5,529.5 1266.5,531.5 1267.5,528.5 1268.5,530.5 1268.5,531.5 1269.5,532.5 1270.5,529.5 1271.5,530.5 1272.5,528.5 1273.5,528.5 1274.5,527.5 1275.5,508.5 1276.5,529.5 1276.5,512.5 1277.5,532.5 1278.5,529.5 1279.5,529.5 1280.5,529.5 1281.5,530.5 1282.5,529.5 1283.5,530.5 1283.5,532.5 1284.5,529.5 1285.5,529.5 1286.5,529.5 1287.5,530.5 1288.5,529.5 1289.5,531.5 1290.5,527.5 1290.5,529.5 1291.5,522.5 1292.5,527.5 1293.5,531.5 1294.5,532.5 1295.5,523.5 1296.5,530.5 1297.5,529.5 1297.5,528.5 1298.5,527.5 1299.5,533.5 1300.5,532.5 1301.5,529.5 1302.5,532.5 1303.5,531.5 1304.5,527.5 1305.5,527.5 1305.5,528.5 1306.5,527.5 1307.5,528.5 1308.5,532.5 1309.5,529.5 1310.5,528.5 1311.5,529.5 1312.5,528.5 1312.5,532.5 1313.5,531.5 1314.5,528.5 1315.5,529.5 1316.5,531.5 1317.5,527.5 1318.5,530.5 1319.5,533.5 1319.5,528.5 1320.5,531.5 1321.5,531.5 1322.5,529.5 1323.5,530.5 1324.5,527.5 1325.5,530.5 1326.5,532.5 1326.5,531.5 1327.5,532.5 1328.5,529.5 1329.5,531.5 1330.5,515.5 1331.5,533.5 1332.5,531.5 1333.5,529.5 1333.5,529.5 1334.5,528.5 1335.5,528.5 1336.5,529.5 1337.5,530.5 1338.5,527.5 1339.5,532.5 1340.5,530.5 1341.5,531.5 1341.5,530.5 1342.5,532.5 1343.5,532.5 1344.5,530.5 1345.5,530.5 1346.5,533.5 1347.5,523.5 1348.5,529.5 1348.5,531.5 1349.5,531.5 1350.5,531.5 1351.5,529.5 1352.5,530.5 1353.5,529.5 1354.5,532.5 1355.5,528.5 1355.5,528.5 1356.5,532.5 1357.5,532.5 1358.5,532.5 1359.5,531.5 1360.5,530.5 1361.5,528.5 1362.5,532.5 1362.5,530.5 101.5,531.5 102.5,532.5 103.5,532.5 104.5,530.5 105.5,529.5 105.5,529.5 106.5,531.5 107.5,531.5 108.5,528.5 109.5,531.5 110.5,527.5 111.5,531.5 112.5,527.5 112.5,533.5 113.5,529.5 114.5,531.5 115.5,531.5 116.5,527.5 117.5,532.5 118.5,529.5 119.5,527.5 119.5,532.5 120.5,528.5 121.5,523.5 122.5,531.5 123.5,530.5 124.5,531.5 125.5,530.5 126.5,527.5 126.5,517.5 127.5,529.5 128.5,528.5 129.5,529.5 130.5,527.5 131.5,529.5 132.5,513.5 133.5,530.5 134.5,532.5 134.5,529.5 135.5,527.5 136.5,529.5 137.5,528.5 138.5,531.5 139.5,528.5 140.5,531.5 141.5,527.5 141.5,529.5 142.5,530.5 143.5,528.5 144.5,527.5 145.5,528.5 146.5,532.5 147.5,527.5 148.5,533.5 148.5,523.5 149.5,532.5 150.5,532.5 151.5,529.5 152.5,531.5 153.5,529.5" fill="none" stroke="#00c000" stroke-width="1" shape-rendering="crispEdges"/>
<polyline points="206.5,529.5 207.5,527.5 208.5,518.5 209.5,525.5 210.5,525.5 211.5,527.5 212.5,527.5 213.5,526.5 213.5,448.5 214.5,488.5 215.5,527.5 216.5,529.5 217.5,489.5 218.5,527.5 219.5,524.5 220.5,524.5 220.5,495.5 221.5,528.5 222.5,526.5 223.5,524.5 224.5,525.5 225.5,529.5 226.5,528.5 227.5,526.5 228.5,492.5 228.5,529.5 229.5,529.5 230.5,526.5 231.5,529.5 232.5,524.5 233.5,523.5 234.5,525.5 235.5,526.5 235.5,526.5 236.5,528.5 237.5,521.5 238.5,524.5 239.5,524.5 240.5,525.5 241.5,524.5 242.5,524.5 242.5,525.5 243.5,528.5 244.5,525.5 245.5,524.5 246.5,528.5 247.5,517.5 248.5,517.5 249.5,525.5 249.5,524.5 250.5,524.5 251.5,528.5 252.5,529.5 253.5,518.5 254.5,517.5 255.5,528.5 256.5,519.5 256.5,526.5 257.5,528.5 258.5,524.5 259.5,524.5 260.5,529.5 261.5,529.5 262.5,525.5 263.5,526.5 264.5,529.5 264.5,528.5 265.5,528.5 266.5,526.5 267.5,526.5 268.5,524.5 269.5,526.5 270.5,524.5 271.5,529.5 271.5,525.5 272.5,526.5 273.5,524.5 274.5,527.5 275.5,525.5 276.5,529.5 277.5,525.5 278.5,525.5 278.5,529.5 279.5,527.5 280.5,524.5 281.5,527.5 282.5,526.5 283.5,524.5 284.5,529.5 285.5,486.5 285.5,527.5 286.5,503.5 287.5,525.5 288.5,528.5 289.5,527.5 290.5,493.5 291.5,528.5 292.5,476.5 293.5,524.5 293.5,500.5 294.5,524.5 295.5,524.5 296.5,526.5 297.5,529.5 298.5,528.5 299.5,529.5 300.5,527.5 300.5,510.5 301.5,500.5 302.5,529.5 303.5,524.5 304.5,518.5 305.5,526.5 306.5,524.5 307.5,524.5 307.5,526.5 308.5,528.5 309.5,526.5 310.5,526.5 311.5,526.5 312.5,526.5 313.5,529.5 314.5,526.5 314.5,524.5 315.5,527.5 316.5,526.5 317.5,522.5 318.5,519.5 319.5,529.5 320.5,525.5 321.5,491.5 321.5,525.5 322.5,526.5 323.5,526.5 324.5,493.5 325.5,528.5 326.5,494.5 327.5,525.5 328.5,526.5 329.5,523.5 329.5,477.5 330.5,529.5 331.5,527.5 332.5,507.5 333.5,529.5 334.5,528.5 335.5,509.5 336.5,526.5 336.5,525.5 337.5,528.5 338.5,525.5 339.5,529.5 340.5,480.5 341.5,498.5 342.5,525.5 343.5,528.5 343.5,524.5 344.5,525.5 345.5,524.5 346.5,528.5 347.5,526.5 348.5,524.5 349.5,528.5 350.5,510.5 350.5,525.5 351.5,529.5 352.5,525.5 353.5,525.5 354.5,529.5 355.5,524.5 356.5,529.5 357.5,455.5 358.5,529.5 358.5,488.5 359.5,527.5 360.5,529.5 361.5,528.5 362.5,525.5 363.5,526.5 364.5,529.5 365.5,528.5 365.5,525.5 366.5,528.5 367.5,498.5 368.5,527.5 369.5,524.5 370.5,527.5 371.5,493.5 372.5,513.5 372.5,525.5 373.5,527.5 374.5,470.5 375.5,524.5 376.5,511.5 377.5,525.5 378.5,526.5 379.5,491.5 379.5,527.5 380.5,524.5 381.5,524.5 382.5,524.5 383.5,524.5 384.5,481.5 385.5,518.5 386.5,498.5 387.5,525.5 387.5,525.5 388.5,527.5 389.5,525.5 390.5,529.5 391.5,493.5 392.5,527.5 393.5,524.5 394.5,526.5 394.5,521.5 395.5,526.5 396.5,524.5 397.5,527.5 398.5,528.5 399.5,526.5 400.5,527.5 401.5,528.5 401.5,527.5 402.5,526.5 403.5,529.5 404.5,519.5 405.5,524.5 406.5,525.5 407.5,526.5 408.5,520.5 408.5,525.5 409.5,524.5 410.5,521.5 411.5,491.5 418.5,525.5 419.5,526.5 420.5,526.5 421.5,524.5 422.5,526.5 423.5,529.5 423.5,528.5 424.5,529.5 425.5,524.5 426.5,498.5 427.5,528.5 428.5,528.5 429.5,527.5 430.5,472.5 430.5,524.5 431.5,518.5 432.5,493.5 433.5,527.5 434.5,528.5 435.5,495.5 436.5,525.5 437.5,529.5 437.5,528.5 438.5,529.5 439.5,526.5 440.5,526.5 441.5,525.5 442.5,528.5 443.5,526.5 444.5,528.5 444.5,522.5 445.5,525.5 446.5,528.5 447.5,529.5 448.5,523.5 449.5,526.5 450.5,524.5 451.5,528.5 452.5,525.5 452.5,528.5 453.5,483.5 454.5,528.5 455.5,527.5 456.5,500.5 457.5,518.5 458.5,528.5 459.5,529.5 459.5,529.5 460.5,528.5 461.5,527.5 462.5,526.5 463.5,525.5 464.5,524.5 465.5,526.5 466.5,528.5 466.5,524.5 467.5,529.5 468.5,519.5 469.5,528.5 470.5,524.5 471.5,527.5 472.5,528.5 473.5,491.5 473.5,528.5 474.5,529.5 475.5,490.5 476.5,526.5 477.5,520.5 478.5,516.5 479.5,525.5 480.5,485.5 481.5,527.5 481.5,502.5 482.5,524.5 483.5,526.5 484.5,529.5 485.5,525.5 486.5,517.5 487.5,529.5 488.5,525.5 488.5,525.5 489.5,519.5 490.5,527.5 491.5,527.5 492.5,528.5 493.5,529.5 494.5,529.5 495.5,525.5 495.5,524.5 496.5,519.5 497.5,525.5 498.5,529.5 499.5,519.5 500.5,525.5 501.5,529.5 502.5,524.5 502.5,524.5 503.5,528.5 504.5,524.5 505.5,526.5 506.5,527.5 507.5,529.5 508.5,529.5 509.5,529.5 509.5,484.5 510.5,529.5 511.5,527.5 512.5,457.5 513.5,474.5 514.5,524.5 515.5,528.5 516.5,527.5 517.5,526.5 517.5,486.5 518.5,524.5 519.5,529.5 520.5,498.5 521.5,529.5 522.5,527.5 523.5,525.5 524.5,525.5 524.5,525.5 525.5,526.5 526.5,525.5 527.5,527.5 528.5,499.5 529.5,529.5 530.5,529.5 531.5,525.5 531.5,525.5 532.5,526.5 533.5,526.5 534.5,526.5 535.5,525.5 536.5,529.5 537.5,527.5 538.5,526.5 538.5,527.5 539.5,527.5 540.5,519.5 541.5,527.5 542.5,526.5 543.5,518.5 544.5,524.5 545.5,527.5 546.5,529.5 546.5,524.5 547.5,528.5 548.5,525.5 549.5,527.5 550.5,484.5 551.5,512.5 552.5,524.5 553.5,527.5 553.5,529.5 554.5,483.5 555.5,526.5 556.5,524.5 557.5,520.5 558.5,474.5 559.5,524.5 560.5,529.5 560.5,527.5 561.5,486.5 562.5,525.5 563.5,525.5 564.5,468.5 565.5,528.5 566.5,529.5 567.5,478.5 567.5,524.5 568.5,478.5 569.5,528.5 570.5,493.5 571.5,528.5 572.5,528.5 573.5,529.5 574.5,527.5 574.5,529.5 575.5,529.5 576.5,528.5 577.5,525.5 578.5,527.5 579.5,525.5 580.5,527.5 581.5,528.5 582.5,526.5 582.5,527.5 583.5,529.5 584.5,527.5 585.5,527.5 586.5,515.5 587.5,527.5 588.5,519.5 589.5,523.5 589.5,528.5 590.5,526.5 591.5,528.5 592.5,528.5 593.5,525.5 594.5,525.5 595.5,485.5 596.5,529.5 596.5,526.5 597.5,526.5 598.5,528.5 599.5,493.5 600.5,529.5 601.5,469.5 602.5,529.5 603.5,527.5 603.5,517.5 604.5,525.5 605.5,526.5 606.5,528.5 607.5,514.5 608.5,529.5 609.5,527.5 610.5,527.5 611.5,491.5 611.5,526.5 612.5,526.5 613.5,456.5 614.5,528.5 615.5,527.5 616.5,525.5 617.5,363.5 618.5,529.5 618.5,529.5 619.5,515.5 620.5,524.5 621.5,516.5 622.5,525.5 623.5,529.5 624.5,528.5 625.5,529.5 625.5,529.5 626.5,526.5 627.5,527.5 628.5,529.5 629.5,524.5 630.5,524.5 631.5,526.5 632.5,516.5 632.5,529.5 633.5,528.5 634.5,511.5 635.5,525.5 636.5,502.5 637.5,529.5 638.5,525.5 639.5,495.5 640.5,525.5 640.5,525.5 641.5,528.5 642.5,525.5 643.5,527.5 644.5,527.5 645.5,525.5 646.5,527.5 647.5,524.5 647.5,493.5 648.5,519.5 649.5,458.5 650.5,526.5 651.5,488.5 652.5,529.5 653.5,525.5 654.5,481.5 654.5,525.5 655.5,528.5 656.5,529.5 657.5,525.5 658.5,526.5 659.5,486.5 660.5,527.5 661.5,524.5 661.5,525.5 662.5,525.5 663.5,525.5 664.5,524.5 665.5,527.5 666.5,495.5 667.5,518.5 668.5,525.5 668.5,524.5 669.5,527.5 670.5,525.5 671.5,524.5 672.5,518.5 673.5,526.5 674.5,528.5 675.5,485.5 684.5,529.5 685.5,528.5 686.5,526.5 687.5,479.5 688.5,525.5 689.5,527.5 690.5,521.5 690.5,526.5 691.5,484.5 692.5,524.5 693.5,498.5 694.5,528.5 695.5,519.5 696.5,527.5 697.5,457.5 697.5,527.5 698.5,493.5 699.5,528.5 700.5,526.5 701.5,529.5 702.5,525.5 703.5,515.5 704.5,524.5 705.5,524.5 705.5,529.5 706.5,528.5 707.5,527.5 708.5,524.5 709.5,524.5 710.5,522.5 711.5,443.5 712.5,527.5 712.5,528.5 713.5,481.5 714.5,529.5 715.5,527.5 716.5,491.5 717.5,525.5 718.5,525.5 719.5,524.5 719.5,528.5 720.5,524.5 721.5,456.5 722.5,527.5 723.5,502.5 724.5,521.5 725.5,526.5 726.5,524.5 726.5,528.5 727.5,526.5 728.5,519.5 729.5,529.5 730.5,525.5 731.5,524.5 732.5,529.5 733.5,526.5 734.5,529.5 734.5,528.5 735.5,524.5 736.5,529.5 737.5,529.5 738.5,527.5 739.5,528.5 740.5,527.5 741.5,527.5 741.5,528.5 742.5,511.5 743.5,527.5 744.5,514.5 745.5,525.5 746.5,529.5 747.5,525.5 748.5,527.5 748.5,526.5 749.5,528.5 750.5,526.5 751.5,524.5 752.5,528.5 753.5,467.5 754.5,528.5 755.5,524.5 755.5,481.5 756.5,526.5 757.5,528.5 758.5,465.5 759.5,527.5 760.5,488.5 761.5,524.5 762.5,529.5 762.5,486.5 763.5,526.5 764.5,524.5 765.5,524.5 766.5,526.5 767.5,528.5 768.5,529.5 769.5,507.5 770.5,523.5 770.5,526.5 771.5,529.5 772.5,527.5 773.5,527.5 774.5,515.5 775.5,524.5 776.5,525.5 777.5,529.5 777.5,525.5 778.5,515.5 779.5,524.5 780.5,529.5 781.5,517.5 782.5,524.5 783.5,529.5 784.5,529.5 784.5,525.5 785.5,519.5 786.5,529.5 787.5,525.5 788.5,528.5 789.5,529.5 790.5,529.5 791.5,498.5 791.5,525.5 792.5,524.5 793.5,524.5 794.5,490.5 795.5,528.5 796.5,482.5 797.5,529.5 798.5,529.5 799.5,527.5 799.5,526.5 800.5,527.5 801.5,487.5 802.5,524.5 803.5,524.5 804.5,526.5 805.5,502.5 806.5,518.5 806.5,525.5 807.5,526.5 808.5,525.5 809.5,384.5 810.5,458.5 811.5,528.5 812.5,505.5 813.5,524.5 813.5,528.5 814.5,529.5 815.5,526.5 816.5,524.5 817.5,526.5 818.5,525.5 819.5,529.5 820.5,518.5 820.5,528.5 821.5,521.5 822.5,529.5 823.5,527.5 824.5,529.5 825.5,528.5 826.5,527.5 827.5,518.5 827.5,473.5 828.5,529.5 829.5,524.5 830.5,491.5 831.5,513.5 832.5,515.5 833.5,456.5 834.5,526.5 835.5,493.5 841.5,528.5 842.5,525.5 842.5,509.5 843.5,528.5 844.5,528.5 845.5,526.5 846.5,524.5 847.5,528.5 848.5,528.5 849.5,522.5 849.5,514.5 850.5,529.5 851.5,526.5 852.5,520.5 853.5,519.5 854.5,528.5 855.5,526.5 856.5,524.5 856.5,527.5 857.5,524.5 858.5,525.5 859.5,500.5 860.5,524.5 861.5,525.5 862.5,526.5 863.5,478.5 864.5,528.5 864.5,527.5 865.5,484.5 866.5,524.5 867.5,525.5 868.5,525.5 869.5,500.5 870.5,521.5 871.5,526.5 871.5,493.5 872.5,529.5 873.5,527.5 874.5,526.5 875.5,527.5 876.5,470.5 877.5,524.5 878.5,500.5 878.5,525.5 879.5,524.5 880.5,528.5 881.5,527.5 882.5,524.5 883.5,526.5 884.5,526.5 885.5,514.5 885.5,529.5 886.5,526.5 887.5,529.5 888.5,527.5 889.5,528.5 890.5,527.5 891.5,524.5 892.5,528.5 893.5,516.5 893.5,522.5 894.5,525.5 895.5,508.5 896.5,527.5 897.5,527.5 898.5,527.5 899.5,529.5 900.5,529.5 900.5,524.5 901.5,524.5 902.5,527.5 903.5,529.5 904.5,485.5 905.5,526.5 906.5,524.5 907.5,518.5 907.5,529.5 908.5,488.5 909.5,526.5 910.5,527.5 911.5,525.5 912.5,491.5 913.5,524.5 914.5,522.5 914.5,527.5 915.5,459.5 916.5,529.5 917.5,493.5 918.5,514.5 919.5,526.5 920.5,348.5 921.5,520.5 921.5,529.5 922.5,527.5 923.5,528.5 924.5,524.5 925.5,416.5 926.5,524.5 927.5,521.5 928.5,520.5 929.5,527.5 929.5,525.5 930.5,512.5 931.5,528.5 932.5,524.5 933.5,509.5 934.5,525.5 935.5,524.5 936.5,529.5 936.5,529.5 937.5,526.5 938.5,517.5 939.5,528.5 940.5,509.5 941.5,524.5 942.5,520.5 943.5,526.5 943.5,516.5 944.5,524.5 945.5,528.5 946.5,526.5 947.5,524.5 948.5,528.5 949.5,524.5 950.5,527.5 950.5,461.5 951.5,528.5 952.5,477.5 953.5,521.5 954.5,528.5 955.5,525.5 956.5,526.5 957.5,528.5 958.5,526.5 958.5,525.5 959.5,527.5 960.5,524.5 961.5,524.5 962.5,529.5 963.5,529.5 964.5,525.5 965.5,458.5 965.5,529.5 966.5,460.5 967.5,516.5 968.5,520.5 969.5,493.5 970.5,526.5 971.5,527.5 972.5,528.5 972.5,524.5 973.5,529.5 974.5,528.5 975.5,526.5 976.5,524.5 977.5,519.5 978.5,526.5 979.5,521.5 979.5,480.5 980.5,508.5 981.5,526.5 982.5,434.5 983.5,524.5 984.5,481.5 985.5,525.5 986.5,529.5 987.5,524.5 987.5,526.5 988.5,480.5 989.5,529.5 990.5,528.5 991.5,529.5 992.5,498.5 993.5,526.5 994.5,518.5 994.5,526.5 995.5,519.5 996.5,528.5 997.5,526.5 998.5,527.5 999.5,526.5 1000.5,527.5 1001.5,481.5 1001.5,528.5 1002.5,527.5 1003.5,529.5 1004.5,524.5 1005.5,453.5 1006.5,529.5 1007.5,524.5 1008.5,467.5 1008.5,526.5 1009.5,498.5 1010.5,528.5 1011.5,529.5 1012.5,524.5 1013.5,526.5 1014.5,527.5 1015.5,522.5 1015.5,529.5 1016.5,524.5 1017.5,529.5 1018.5,514.5 1019.5,526.5 1020.5,525.5 1021.5,524.5 1022.5,525.5 1023.5,528.5 1023.5,518.5 1024.5,525.5 1025.5,526.5 1026.5,529.5 1027.5,497.5 1028.5,527.5 1029.5,528.5 1030.5,527.5 1030.5,470.5 1031.5,528.5 1032.5,480.5 1033.5,529.5 1034.5,524.5 1035.5,484.5 1036.5,317.5 1037.5,517.5 1037.5,526.5 1038.5,458.5 1039.5,526.5 1040.5,524.5 1041.5,529.5 1042.5,526.5 1043.5,518.5 1044.5,527.5 1044.5,524.5 1049.5,524.5 1050.5,526.5 1051.5,525.5 1052.5,525.5 1052.5,527.5 1053.5,524.5 1054.5,528.5 1055.5,522.5 1056.5,529.5 1057.5,527.5 1058.5,524.5 1059.5,526.5 1059.5,527.5 1060.5,528.5 1061.5,527.5 1062.5,452.5 1063.5,488.5 1064.5,529.5 1065.5,529.5 1066.5,529.5 1066.5,529.5 1067.5,527.5 1068.5,527.5 1069.5,527.5 1070.5,528.5 1071.5,351.5 1072.5,526.5 1073.5,520.5 1073.5,527.5 1074.5,528.5 1075.5,528.5 1076.5,528.5 1077.5,527.5 1078.5,528.5 1079.5,526.5 1080.5,526.5 1080.5,515.5 1081.5,528.5 1082.5,526.5 1083.5,524.5 1084.5,528.5 1085.5,529.5 1086.5,526.5 1087.5,525.5 1088.5,516.5 1088.5,526.5 1089.5,529.5 1090.5,524.5 1091.5,519.5 1092.5,524.5 1093.5,527.5 1094.5,438.5 1095.5,481.5 1103.5,526.5 1104.5,528.5 1105.5,528.5 1106.5,482.5 1107.5,526.5 1108.5,529.5 1109.5,526.5 1109.5,528.5 1110.5,528.5 1111.5,528.5 1112.5,519.5 1113.5,513.5 1114.5,515.5 1115.5,526.5 1116.5,518.5 1117.5,526.5 1117.5,528.5 1118.5,524.5 1119.5,527.5 1120.5,526.5 1121.5,529.5 1122.5,529.5 1123.5,485.5 1124.5,526.5 1124.5,524.5 1125.5,469.5 1126.5,527.5 1127.5,529.5 1128.5,498.5 1129.5,520.5 1130.5,528.5 1131.5,528.5 1131.5,526.5 1132.5,524.5 1133.5,525.5 1134.5,524.5 1135.5,525.5 1136.5,528.5 1137.5,524.5 1138.5,527.5 1138.5,525.5 1139.5,525.5 1140.5,527.5 1141.5,526.5 1142.5,525.5 1143.5,518.5 1144.5,529.5 1145.5,417.5 1146.5,525.5 1146.5,488.5 1147.5,526.5 1148.5,526.5 1149.5,527.5 1150.5,511.5 1151.5,524.5 1152.5,526.5 1153.5,521.5 1153.5,524.5 1154.5,528.5 1155.5,525.5 1156.5,524.5 1157.5,527.5 1158.5,525.5 1159.5,528.5 1160.5,527.5 1160.5,528.5 1161.5,525.5 1162.5,493.5 1163.5,529.5 1164.5,528.5 1165.5,524.5 1166.5,486.5 1167.5,529.5 1167.5,523.5 1168.5,507.5 1169.5,528.5 1170.5,527.5 1171.5,513.5 1172.5,521.5 1173.5,488.5 1174.5,526.5 1174.5,460.5 1175.5,528.5 1176.5,366.5 1177.5,494.5 1178.5,524.5 1179.5,507.5 1180.5,528.5 1181.5,527.5 1182.5,526.5 1182.5,528.5 1183.5,529.5 1184.5,524.5 1185.5,527.5 1186.5,516.5 1187.5,519.5 1188.5,529.5 1189.5,515.5 1189.5,529.5 1190.5,527.5 1191.5,527.5 1192.5,474.5 1193.5,524.5 1194.5,526.5 1195.5,528.5 1196.5,491.5 1196.5,526.5 1197.5,525.5 1198.5,518.5 1199.5,526.5 1200.5,528.5 1201.5,527.5 1202.5,526.5 1203.5,528.5 1203.5,486.5 1211.5,527.5 1211.5,457.5 1212.5,491.5 1213.5,513.5 1214.5,527.5 1215.5,528.5 1216.5,518.5 1217.5,524.5 1218.5,525.5 1218.5,516.5 1219.5,528.5 1220.5,525.5 1221.5,524.5 1222.5,524.5 1223.5,526.5 1224.5,525.5 1225.5,527.5 1225.5,528.5 1226.5,524.5 1227.5,525.5 1228.5,486.5 1229.5,521.5 1230.5,524.5 1231.5,484.5 1232.5,519.5 1232.5,525.5 1233.5,487.5 1234.5,527.5 1235.5,524.5 1236.5,502.5 1237.5,509.5 1238.5,528.5 1239.5,525.5 1240.5,525.5 1240.5,518.5 1241.5,525.5 1242.5,516.5 1243.5,529.5 1244.5,525.5 1245.5,529.5 1246.5,525.5 1247.5,527.5 1247.5,510.5 1248.5,525.5 1249.5,526.5 1250.5,526.5 1251.5,524.5 1252.5,524.5 1253.5,527.5 1254.5,526.5 1254.5,525.5 1255.5,524.5 1256.5,526.5 1257.5,529.5 1258.5,525.5 1259.5,521.5 1260.5,528.5 1261.5,527.5 1261.5,526.5 1262.5,524.5 1263.5,528.5 1264.5,529.5 1265.5,515.5 1266.5,524.5 1267.5,494.5 1268.5,523.5 1268.5,523.5 1269.5,470.5 1270.5,515.5 1271.5,518.5 1272.5,451.5 1273.5,529.5 1274.5,524.5 1275.5,429.5 1276.5,517.5 1276.5,528.5 1277.5,524.5 1278.5,526.5 1279.5,486.5 1280.5,528.5 1281.5,528.5 1282.5,475.5 1283.5,518.5 1283.5,502.5 1284.5,526.5 1285.5,525.5 1286.5,528.5 1287.5,521.5 1288.5,524.5 1289.5,528.5 1290.5,526.5 1290.5,518.5 1291.5,525.5 1292.5,526.5 1293.5,516.5 1294.5,528.5 1295.5,527.5 1296.5,524.5 1297.5,527.5 1297.5,524.5 1298.5,526.5 1299.5,527.5 1300.5,525.5 1301.5,529.5 1302.5,527.5 1303.5,527.5 1304.5,524.5 1305.5,474.5 1305.5,523.5 1306.5,485.5 1314.5,523.5 1315.5,527.5 1316.5,529.5 1317.5,439.5 1318.5,525.5 1319.5,525.5 1319.5,513.5 1320.5,529.5 1321.5,528.5 1322.5,525.5 1323.5,524.5 1324.5,529.5 1325.5,514.5 1326.5,526.5 1326.5,524.5 1327.5,525.5 1328.5,517.5 1329.5,528.5 1330.5,524.5 1331.5,529.5 1332.5,529.5 1333.5,528.5 1333.5,508.5 1334.5,520.5 1335.5,518.5 1336.5,524.5 1337.5,526.5 1338.5,476.5 1339.5,526.5 1340.5,521.5 1341.5,527.5 1341.5,490.5 1342.5,528.5 1343.5,524.5 1344.5,513.5 1345.5,525.5 1346.5,496.5 1347.5,524.5 1348.5,526.5 1348.5,497.5 1349.5,527.5 1350.5,526.5 1351.5,495.5 1352.5,529.5 1353.5,526.5 1354.5,519.5 1355.5,491.5 1355.5,528.5 1356.5,517.5 1357.5,519.5 1358.5,529.5 1359.5,522.5 1360.5,525.5 1361.5,526.5 1362.5,524.5 1362.5,522.5 101.5,529.5 102.5,525.5 103.5,508.5 104.5,486.5 105.5,527.5 105.5,529.5 106.5,526.5 107.5,527.5 108.5,525.5 109.5,496.5 110.5,524.5 111.5,478.5 112.5,527.5 112.5,484.5 113.5,522.5 114.5,514.5 115.5,529.5 116.5,526.5 117.5,527.5 118.5,528.5 119.5,525.5 119.5,526.5 120.5,521.5 121.5,528.5 122.5,477.5 123.5,528.5 124.5,499.5 125.5,431.5 126.5,529.5 126.5,529.5 127.5,510.5 128.5,527.5 129.5,513.5 130.5,528.5 131.5,527.5 132.5,513.5 133.5,528.5 134.5,525.5 134.5,525.5 135.5,521.5 136.5,524.5 137.5,527.5 138.5,528.5 139.5,526.5 140.5,524.5 141.5,489.5 141.5,521.5 142.5,499.5 143.5,526.5 144.5,529.5 145.5,493.5 146.5,482.5 147.5,529.5 148.5,490.5 148.5,514.5 149.5,528.5 150.5,529.5 151.5,527.5 152.5,528.5 153.5,529.5" fill="none" stroke="#0080ff" stroke-width="1" shape-rendering="crispEdges"/>
<line x1="1288" y1="72.5" x2="1345" y2="72.5" stroke="#ff0000" stroke-width="1" shape-rendering="crispEdges"/>
<line x1="1288" y1="91.5" x2="1345" y2="91.5" stroke="#00c000" stroke-width="1" shape-rendering="crispEdges"/>
<line x1="1288" y1="110.5" x2="1345" y2="110.5" stroke="#0080ff" stroke-width="1" shape-rendering="crispEdges"/>
<rect x="200.7" y="427.6" width="11.6" height="11.6" fill="none" stroke="#c000ff" stroke-width="1" shape-rendering="crispEdges"/>
<rect x="1310.7" y="123.7" width="11.6" height="11.6" fill="none" stroke="#c000ff" stroke-width="1" shape-rendering="crispEdges"/>
<rect x="200.4" y="481.1" width="12.6" height="12.6" fill="#00eeee" shape-rendering="crispEdges"/>
<rect x="1310.2" y="142.2" width="12.6" height="12.6" fill="#00eeee" shape-rendering="crispEdges"/>
<circle cx="103.5" cy="469.5" r="5.3" fill="none" stroke="#c04000" stroke-width="1.35" shape-rendering="crispEdges"/>
<path d="M103.5 462.8v2M103.5 474.2v2M96.8 469.5h2M108.2 469.5h2" stroke="#c04000" stroke-width="1" fill="none" shape-rendering="crispEdges"/>
<circle cx="149.5" cy="367.5" r="5.3" fill="none" stroke="#c04000" stroke-width="1.35" shape-rendering="crispEdges"/>
<path d="M149.5 360.8v2M149.5 372.2v2M142.8 367.5h2M154.2 367.5h2" stroke="#c04000" stroke-width="1" fill="none" shape-rendering="crispEdges"/>
<circle cx="208.5" cy="475.5" r="5.3" fill="none" stroke="#c04000" stroke-width="1.35" shape-rendering="crispEdges"/>
<path d="M208.5 468.8v2M208.5 480.2v2M201.8 475.5h2M213.2 475.5h2" stroke="#c04000" stroke-width="1" fill="none" shape-rendering="crispEdges"/>
<circle cx="254.5" cy="470.5" r="5.3" fill="none" stroke="#c04000" stroke-width="1.35" shape-rendering="crispEdges"/>
<path d="M254.5 463.8v2M254.5 475.2v2M247.8 470.5h2M259.2 470.5h2" stroke="#c04000" stroke-width="1" fill="none" shape-rendering="crispEdges"/>
<circle cx="261.5" cy="474.5" r="5.3" fill="none" stroke="#c04000" stroke-width="1.35" shape-rendering="crispEdges"/>
<path d="M261.5 467.8v2M261.5 479.2v2M254.8 474.5h2M266.2 474.5h2" stroke="#c04000" stroke-width="1" fill="none" shape-rendering="crispEdges"/>
<circle cx="306.5" cy="475.5" r="5.3" fill="none" stroke="#c04000" stroke-width="1.35" shape-rendering="crispEdges"/>
<path d="M306.5 468.8v2M306.5 480.2v2M299.8 475.5h2M311.2 475.5h2" stroke="#c04000" stroke-width="1" fill="none" shape-rendering="crispEdges"/>
<circle cx="314.5" cy="474.5" r="5.3" fill="none" stroke="#c04000" stroke-width="1.35" shape-rendering="crispEdges"/>
<path d="M314.5 467.8v2M314.5 479.2v2M307.8 474.5h2M319.2 474.5h2" stroke="#c04000" stroke-width="1" fill="none" shape-rendering="crispEdges"/>
<circle cx="359.5" cy="475.5" r="5.3" fill="none" stroke="#c04000" stroke-width="1.35" shape-rendering="crispEdges"/>
<path d="M359.5 468.8v2M359.5 480.2v2M352.8 475.5h2M364.2 475.5h2" stroke="#c04000" stroke-width="1" fill="none" shape-rendering="crispEdges"/>
<circle cx="366.5" cy="471.5" r="5.3" fill="none" stroke="#c04000" stroke-width="1.35" shape-rendering="crispEdges"/>
<path d="M366.5 464.8v2M366.5 476.2v2M359.8 471.5h2M371.2 471.5h2" stroke="#c04000" stroke-width="1" fill="none" shape-rendering="crispEdges"/>
<circle cx="413.5" cy="474.5" r="5.3" fill="none" stroke="#c04000" stroke-width="1.35" shape-rendering="crispEdges"/>
<path d="M413.5 467.8v2M413.5 479.2v2M406.8 474.5h2M418.2 474.5h2" stroke="#c04000" stroke-width="1" fill="none" shape-rendering="crispEdges"/>
<circle cx="419.5" cy="475.5" r="5.3" fill="none" stroke="#c04000" stroke-width="1.35" shape-rendering="crispEdges"/>
<path d="M419.5 468.8v2M419.5 480.2v2M412.8 475.5h2M424.2 475.5h2" stroke="#c04000" stroke-width="1" fill="none" shape-rendering="crispEdges"/>
<circle cx="466.5" cy="469.5" r="5.3" fill="none" stroke="#c04000" stroke-width="1.35" shape-rendering="crispEdges"/>
<path d="M466.5 462.8v2M466.5 474.2v2M459.8 469.5h2M471.2 469.5h2" stroke="#c04000" stroke-width="1" fill="none" shape-rendering="crispEdges"/>
<circle cx="472.5" cy="475.5" r="5.3" fill="none" stroke="#c04000" stroke-width="1.35" shape-rendering="crispEdges"/>
<path d="M472.5 468.8v2M472.5 480.2v2M465.8 475.5h2M477.2 475.5h2" stroke="#c04000" stroke-width="1" fill="none" shape-rendering="crispEdges"/>
<circle cx="518.5" cy="411.5" r="5.3" fill="none" stroke="#c04000" stroke-width="1.35" shape-rendering="crispEdges"/>
<path d="M518.5 404.8v2M518.5 416.2v2M511.8 411.5h2M523.2 411.5h2" stroke="#c04000" stroke-width="1" fill="none" shape-rendering="crispEdges"/>
<circle cx="524.5" cy="473.5" r="5.3" fill="none" stroke="#c04000" stroke-width="1.35" shape-rendering="crispEdges"/>
<path d="M524.5 466.8v2M524.5 478.2v2M517.8 473.5h2M529.2 473.5h2" stroke="#c04000" stroke-width="1" fill="none" shape-rendering="crispEdges"/>
<circle cx="571.5" cy="427.5" r="5.3" fill="none" stroke="#c04000" stroke-width="1.35" shape-rendering="crispEdges"/>
<path d="M571.5 420.8v2M571.5 432.2v2M564.8 427.5h2M576.2 427.5h2" stroke="#c04000" stroke-width="1" fill="none" shape-rendering="crispEdges"/>
<circle cx="577.5" cy="471.5" r="5.3" fill="none" stroke="#c04000" stroke-width="1.35" shape-rendering="crispEdges"/>
<path d="M577.5 464.8v2M577.5 476.2v2M570.8 471.5h2M582.2 471.5h2" stroke="#c04000" stroke-width="1" fill="none" shape-rendering="crispEdges"/>
<circle cx="624.5" cy="470.5" r="5.3" fill="none" stroke="#c04000" stroke-width="1.35" shape-rendering="crispEdges"/>
<path d="M624.5 463.8v2M624.5 475.2v2M617.8 470.5h2M629.2 470.5h2" stroke="#c04000" stroke-width="1" fill="none" shape-rendering="crispEdges"/>
<circle cx="631.5" cy="468.5" r="5.3" fill="none" stroke="#c04000" stroke-width="1.35" shape-rendering="crispEdges"/>
<path d="M631.5 461.8v2M631.5 473.2v2M624.8 468.5h2M636.2 468.5h2" stroke="#c04000" stroke-width="1" fill="none" shape-rendering="crispEdges"/>
<circle cx="676.5" cy="427.5" r="5.3" fill="none" stroke="#c04000" stroke-width="1.35" shape-rendering="crispEdges"/>
<path d="M676.5 420.8v2M676.5 432.2v2M669.8 427.5h2M681.2 427.5h2" stroke="#c04000" stroke-width="1" fill="none" shape-rendering="crispEdges"/>
<circle cx="683.5" cy="335.5" r="5.3" fill="none" stroke="#c04000" stroke-width="1.35" shape-rendering="crispEdges"/>
<path d="M683.5 328.8v2M683.5 340.2v2M676.8 335.5h2M688.2 335.5h2" stroke="#c04000" stroke-width="1" fill="none" shape-rendering="crispEdges"/>
<circle cx="729.5" cy="451.5" r="5.3" fill="none" stroke="#c04000" stroke-width="1.35" shape-rendering="crispEdges"/>
<path d="M729.5 444.8v2M729.5 456.2v2M722.8 451.5h2M734.2 451.5h2" stroke="#c04000" stroke-width="1" fill="none" shape-rendering="crispEdges"/>
<circle cx="735.5" cy="455.5" r="5.3" fill="none" stroke="#c04000" stroke-width="1.35" shape-rendering="crispEdges"/>
<path d="M735.5 448.8v2M735.5 460.2v2M728.8 455.5h2M740.2 455.5h2" stroke="#c04000" stroke-width="1" fill="none" shape-rendering="crispEdges"/>
<circle cx="788.5" cy="448.5" r="5.3" fill="none" stroke="#c04000" stroke-width="1.35" shape-rendering="crispEdges"/>
<path d="M788.5 441.8v2M788.5 453.2v2M781.8 448.5h2M793.2 448.5h2" stroke="#c04000" stroke-width="1" fill="none" shape-rendering="crispEdges"/>
<circle cx="782.5" cy="468.5" r="5.3" fill="none" stroke="#c04000" stroke-width="1.35" shape-rendering="crispEdges"/>
<path d="M782.5 461.8v2M782.5 473.2v2M775.8 468.5h2M787.2 468.5h2" stroke="#c04000" stroke-width="1" fill="none" shape-rendering="crispEdges"/>
<circle cx="835.5" cy="365.5" r="5.3" fill="none" stroke="#c04000" stroke-width="1.35" shape-rendering="crispEdges"/>
<path d="M835.5 358.8v2M835.5 370.2v2M828.8 365.5h2M840.2 365.5h2" stroke="#c04000" stroke-width="1" fill="none" shape-rendering="crispEdges"/>
<circle cx="841.5" cy="455.5" r="5.3" fill="none" stroke="#c04000" stroke-width="1.35" shape-rendering="crispEdges"/>
<path d="M841.5 448.8v2M841.5 460.2v2M834.8 455.5h2M846.2 455.5h2" stroke="#c04000" stroke-width="1" fill="none" shape-rendering="crispEdges"/>
<circle cx="887.5" cy="470.5" r="5.3" fill="none" stroke="#c04000" stroke-width="1.35" shape-rendering="crispEdges"/>
<path d="M887.5 463.8v2M887.5 475.2v2M880.8 470.5h2M892.2 470.5h2" stroke="#c04000" stroke-width="1" fill="none" shape-rendering="crispEdges"/>
<circle cx="893.5" cy="470.5" r="5.3" fill="none" stroke="#c04000" stroke-width="1.35" shape-rendering="crispEdges"/>
<path d="M893.5 463.8v2M893.5 475.2v2M886.8 470.5h2M898.2 470.5h2" stroke="#c04000" stroke-width="1" fill="none" shape-rendering="crispEdges"/>
<circle cx="940.5" cy="454.5" r="5.3" fill="none" stroke="#c04000" stroke-width="1.35" shape-rendering="crispEdges"/>
<path d="M940.5 447.8v2M940.5 459.2v2M933.8 454.5h2M945.2 454.5h2" stroke="#c04000" stroke-width="1" fill="none" shape-rendering="crispEdges"/>
<circle cx="946.5" cy="473.5" r="5.3" fill="none" stroke="#c04000" stroke-width="1.35" shape-rendering="crispEdges"/>
<path d="M946.5 466.8v2M946.5 478.2v2M939.8 473.5h2M951.2 473.5h2" stroke="#c04000" stroke-width="1" fill="none" shape-rendering="crispEdges"/>
<circle cx="993.5" cy="467.5" r="5.3" fill="none" stroke="#c04000" stroke-width="1.35" shape-rendering="crispEdges"/>
<path d="M993.5 460.8v2M993.5 472.2v2M986.8 467.5h2M998.2 467.5h2" stroke="#c04000" stroke-width="1" fill="none" shape-rendering="crispEdges"/>
<circle cx="999.5" cy="476.5" r="5.3" fill="none" stroke="#c04000" stroke-width="1.35" shape-rendering="crispEdges"/>
<path d="M999.5 469.8v2M999.5 481.2v2M992.8 476.5h2M1004.2 476.5h2" stroke="#c04000" stroke-width="1" fill="none" shape-rendering="crispEdges"/>
<circle cx="1045.5" cy="452.5" r="5.3" fill="none" stroke="#c04000" stroke-width="1.35" shape-rendering="crispEdges"/>
<path d="M1045.5 445.8v2M1045.5 457.2v2M1038.8 452.5h2M1050.2 452.5h2" stroke="#c04000" stroke-width="1" fill="none" shape-rendering="crispEdges"/>
<circle cx="1052.5" cy="454.5" r="5.3" fill="none" stroke="#c04000" stroke-width="1.35" shape-rendering="crispEdges"/>
<path d="M1052.5 447.8v2M1052.5 459.2v2M1045.8 454.5h2M1057.2 454.5h2" stroke="#c04000" stroke-width="1" fill="none" shape-rendering="crispEdges"/>
<circle cx="1098.5" cy="465.5" r="5.3" fill="none" stroke="#c04000" stroke-width="1.35" shape-rendering="crispEdges"/>
<path d="M1098.5 458.8v2M1098.5 470.2v2M1091.8 465.5h2M1103.2 465.5h2" stroke="#c04000" stroke-width="1" fill="none" shape-rendering="crispEdges"/>
<circle cx="1104.5" cy="474.5" r="5.3" fill="none" stroke="#c04000" stroke-width="1.35" shape-rendering="crispEdges"/>
<path d="M1104.5 467.8v2M1104.5 479.2v2M1097.8 474.5h2M1109.2 474.5h2" stroke="#c04000" stroke-width="1" fill="none" shape-rendering="crispEdges"/>
<circle cx="1151.5" cy="367.5" r="5.3" fill="none" stroke="#c04000" stroke-width="1.35" shape-rendering="crispEdges"/>
<path d="M1151.5 360.8v2M1151.5 372.2v2M1144.8 367.5h2M1156.2 367.5h2" stroke="#c04000" stroke-width="1" fill="none" shape-rendering="crispEdges"/>
<circle cx="1157.5" cy="393.5" r="5.3" fill="none" stroke="#c04000" stroke-width="1.35" shape-rendering="crispEdges"/>
<path d="M1157.5 386.8v2M1157.5 398.2v2M1150.8 393.5h2M1162.2 393.5h2" stroke="#c04000" stroke-width="1" fill="none" shape-rendering="crispEdges"/>
<circle cx="1203.5" cy="470.5" r="5.3" fill="none" stroke="#c04000" stroke-width="1.35" shape-rendering="crispEdges"/>
<path d="M1203.5 463.8v2M1203.5 475.2v2M1196.8 470.5h2M1208.2 470.5h2" stroke="#c04000" stroke-width="1" fill="none" shape-rendering="crispEdges"/>
<circle cx="1210.5" cy="472.5" r="5.3" fill="none" stroke="#c04000" stroke-width="1.35" shape-rendering="crispEdges"/>
<path d="M1210.5 465.8v2M1210.5 477.2v2M1203.8 472.5h2M1215.2 472.5h2" stroke="#c04000" stroke-width="1" fill="none" shape-rendering="crispEdges"/>
<circle cx="1256.5" cy="466.5" r="5.3" fill="none" stroke="#c04000" stroke-width="1.35" shape-rendering="crispEdges"/>
<path d="M1256.5 459.8v2M1256.5 471.2v2M1249.8 466.5h2M1261.2 466.5h2" stroke="#c04000" stroke-width="1" fill="none" shape-rendering="crispEdges"/>
<circle cx="1262.5" cy="472.5" r="5.3" fill="none" stroke="#c04000" stroke-width="1.35" shape-rendering="crispEdges"/>
<path d="M1262.5 465.8v2M1262.5 477.2v2M1255.8 472.5h2M1267.2 472.5h2" stroke="#c04000" stroke-width="1" fill="none" shape-rendering="crispEdges"/>
<circle cx="1309.5" cy="469.5" r="5.3" fill="none" stroke="#c04000" stroke-width="1.35" shape-rendering="crispEdges"/>
<path d="M1309.5 462.8v2M1309.5 474.2v2M1302.8 469.5h2M1314.2 469.5h2" stroke="#c04000" stroke-width="1" fill="none" shape-rendering="crispEdges"/>
<circle cx="1315.5" cy="304.5" r="5.3" fill="none" stroke="#c04000" stroke-width="1.35" shape-rendering="crispEdges"/>
<path d="M1315.5 297.8v2M1315.5 309.2v2M1308.8 304.5h2M1320.2 304.5h2" stroke="#c04000" stroke-width="1" fill="none" shape-rendering="crispEdges"/>
<circle cx="1362.5" cy="473.5" r="5.3" fill="none" stroke="#c04000" stroke-width="1.35" shape-rendering="crispEdges"/>
<path d="M1362.5 466.8v2M1362.5 478.2v2M1355.8 473.5h2M1367.2 473.5h2" stroke="#c04000" stroke-width="1" fill="none" shape-rendering="crispEdges"/>
<circle cx="1316.5" cy="167.5" r="5.3" fill="none" stroke="#c04000" stroke-width="1.35" shape-rendering="crispEdges"/>
<path d="M1316.5 160.8v2M1316.5 172.2v2M1309.8 167.5h2M1321.2 167.5h2" stroke="#c04000" stroke-width="1" fill="none" shape-rendering="crispEdges"/>
<circle cx="103.5" cy="539.5" r="5.7" fill="#c8c800" shape-rendering="crispEdges"/>
<path d="M103.0 533.0h1v13h-1z" fill="#c8c800" shape-rendering="crispEdges"/>
<circle cx="149.5" cy="539.5" r="5.7" fill="#c8c800" shape-rendering="crispEdges"/>
<path d="M149.0 533.0h1v13h-1z" fill="#c8c800" shape-rendering="crispEdges"/>
<circle cx="208.5" cy="539.5" r="5.7" fill="#c8c800" shape-rendering="crispEdges"/>
<path d="M208.0 533.0h1v13h-1z" fill="#c8c800" shape-rendering="crispEdges"/>
<circle cx="255.5" cy="539.5" r="5.7" fill="#c8c800" shape-rendering="crispEdges"/>
<path d="M255.0 533.0h1v13h-1z" fill="#c8c800" shape-rendering="crispEdges"/>
<circle cx="261.5" cy="539.5" r="5.7" fill="#c8c800" shape-rendering="crispEdges"/>
<path d="M261.0 533.0h1v13h-1z" fill="#c8c800" shape-rendering="crispEdges"/>
<circle cx="308.5" cy="539.5" r="5.7" fill="#c8c800" shape-rendering="crispEdges"/>
<path d="M308.0 533.0h1v13h-1z" fill="#c8c800" shape-rendering="crispEdges"/>
<circle cx="314.5" cy="539.5" r="5.7" fill="#c8c800" shape-rendering="crispEdges"/>
<path d="M314.0 533.0h1v13h-1z" fill="#c8c800" shape-rendering="crispEdges"/>
<circle cx="360.5" cy="539.5" r="5.7" fill="#c8c800" shape-rendering="crispEdges"/>
<path d="M360.0 533.0h1v13h-1z" fill="#c8c800" shape-rendering="crispEdges"/>
<circle cx="367.5" cy="539.5" r="5.7" fill="#c8c800" shape-rendering="crispEdges"/>
<path d="M367.0 533.0h1v13h-1z" fill="#c8c800" shape-rendering="crispEdges"/>
<circle cx="413.5" cy="539.5" r="5.7" fill="#c8c800" shape-rendering="crispEdges"/>
<path d="M413.0 533.0h1v13h-1z" fill="#c8c800" shape-rendering="crispEdges"/>
<circle cx="419.5" cy="539.5" r="5.7" fill="#c8c800" shape-rendering="crispEdges"/>
<path d="M419.0 533.0h1v13h-1z" fill="#c8c800" shape-rendering="crispEdges"/>
<circle cx="466.5" cy="539.5" r="5.7" fill="#c8c800" shape-rendering="crispEdges"/>
<path d="M466.0 533.0h1v13h-1z" fill="#c8c800" shape-rendering="crispEdges"/>
<circle cx="472.5" cy="539.5" r="5.7" fill="#c8c800" shape-rendering="crispEdges"/>
<path d="M472.0 533.0h1v13h-1z" fill="#c8c800" shape-rendering="crispEdges"/>
<circle cx="518.5" cy="539.5" r="5.7" fill="#c8c800" shape-rendering="crispEdges"/>
<path d="M518.0 533.0h1v13h-1z" fill="#c8c800" shape-rendering="crispEdges"/>
<circle cx="525.5" cy="539.5" r="5.7" fill="#c8c800" shape-rendering="crispEdges"/>
<path d="M525.0 533.0h1v13h-1z" fill="#c8c800" shape-rendering="crispEdges"/>
<circle cx="571.5" cy="539.5" r="5.7" fill="#c8c800" shape-rendering="crispEdges"/>
<path d="M571.0 533.0h1v13h-1z" fill="#c8c800" shape-rendering="crispEdges"/>
<circle cx="577.5" cy="539.5" r="5.7" fill="#c8c800" shape-rendering="crispEdges"/>
<path d="M577.0 533.0h1v13h-1z" fill="#c8c800" shape-rendering="crispEdges"/>
<circle cx="624.5" cy="539.5" r="5.7" fill="#c8c800" shape-rendering="crispEdges"/>
<path d="M624.0 533.0h1v13h-1z" fill="#c8c800" shape-rendering="crispEdges"/>
<circle cx="630.5" cy="539.5" r="5.7" fill="#c8c800" shape-rendering="crispEdges"/>
<path d="M630.0 533.0h1v13h-1z" fill="#c8c800" shape-rendering="crispEdges"/>
<circle cx="676.5" cy="539.5" r="5.7" fill="#c8c800" shape-rendering="crispEdges"/>
<path d="M676.0 533.0h1v13h-1z" fill="#c8c800" shape-rendering="crispEdges"/>
<circle cx="683.5" cy="539.5" r="5.7" fill="#c8c800" shape-rendering="crispEdges"/>
<path d="M683.0 533.0h1v13h-1z" fill="#c8c800" shape-rendering="crispEdges"/>
<circle cx="729.5" cy="539.5" r="5.7" fill="#c8c800" shape-rendering="crispEdges"/>
<path d="M729.0 533.0h1v13h-1z" fill="#c8c800" shape-rendering="crispEdges"/>
<circle cx="736.5" cy="539.5" r="5.7" fill="#c8c800" shape-rendering="crispEdges"/>
<path d="M736.0 533.0h1v13h-1z" fill="#c8c800" shape-rendering="crispEdges"/>
<circle cx="782.5" cy="539.5" r="5.7" fill="#c8c800" shape-rendering="crispEdges"/>
<path d="M782.0 533.0h1v13h-1z" fill="#c8c800" shape-rendering="crispEdges"/>
<circle cx="788.5" cy="539.5" r="5.7" fill="#c8c800" shape-rendering="crispEdges"/>
<path d="M788.0 533.0h1v13h-1z" fill="#c8c800" shape-rendering="crispEdges"/>
<circle cx="835.5" cy="539.5" r="5.7" fill="#c8c800" shape-rendering="crispEdges"/>
<path d="M835.0 533.0h1v13h-1z" fill="#c8c800" shape-rendering="crispEdges"/>
<circle cx="841.5" cy="539.5" r="5.7" fill="#c8c800" shape-rendering="crispEdges"/>
<path d="M841.0 533.0h1v13h-1z" fill="#c8c800" shape-rendering="crispEdges"/>
<circle cx="887.5" cy="539.5" r="5.7" fill="#c8c800" shape-rendering="crispEdges"/>
<path d="M887.0 533.0h1v13h-1z" fill="#c8c800" shape-rendering="crispEdges"/>
<circle cx="894.5" cy="539.5" r="5.7" fill="#c8c800" shape-rendering="crispEdges"/>
<path d="M894.0 533.0h1v13h-1z" fill="#c8c800" shape-rendering="crispEdges"/>
<circle cx="940.5" cy="539.5" r="5.7" fill="#c8c800" shape-rendering="crispEdges"/>
<path d="M940.0 533.0h1v13h-1z" fill="#c8c800" shape-rendering="crispEdges"/>
<circle cx="946.5" cy="539.5" r="5.7" fill="#c8c800" shape-rendering="crispEdges"/>
<path d="M946.0 533.0h1v13h-1z" fill="#c8c800" shape-rendering="crispEdges"/>
<circle cx="993.5" cy="539.5" r="5.7" fill="#c8c800" shape-rendering="crispEdges"/>
<path d="M993.0 533.0h1v13h-1z" fill="#c8c800" shape-rendering="crispEdges"/>
<circle cx="999.5" cy="539.5" r="5.7" fill="#c8c800" shape-rendering="crispEdges"/>
<path d="M999.0 533.0h1v13h-1z" fill="#c8c800" shape-rendering="crispEdges"/>
<circle cx="1045.5" cy="539.5" r="5.7" fill="#c8c800" shape-rendering="crispEdges"/>
<path d="M1045.0 533.0h1v13h-1z" fill="#c8c800" shape-rendering="crispEdges"/>
<circle cx="1052.5" cy="539.5" r="5.7" fill="#c8c800" shape-rendering="crispEdges"/>
<path d="M1052.0 533.0h1v13h-1z" fill="#c8c800" shape-rendering="crispEdges"/>
<circle cx="1098.5" cy="539.5" r="5.7" fill="#c8c800" shape-rendering="crispEdges"/>
<path d="M1098.0 533.0h1v13h-1z" fill="#c8c800" shape-rendering="crispEdges"/>
<circle cx="1105.5" cy="539.5" r="5.7" fill="#c8c800" shape-rendering="crispEdges"/>
<path d="M1105.0 533.0h1v13h-1z" fill="#c8c800" shape-rendering="crispEdges"/>
<circle cx="1151.5" cy="539.5" r="5.7" fill="#c8c800" shape-rendering="crispEdges"/>
<path d="M1151.0 533.0h1v13h-1z" fill="#c8c800" shape-rendering="crispEdges"/>
<circle cx="1157.5" cy="539.5" r="5.7" fill="#c8c800" shape-rendering="crispEdges"/>
<path d="M1157.0 533.0h1v13h-1z" fill="#c8c800" shape-rendering="crispEdges"/>
<circle cx="1204.5" cy="539.5" r="5.7" fill="#c8c800" shape-rendering="crispEdges"/>
<path d="M1204.0 533.0h1v13h-1z" fill="#c8c800" shape-rendering="crispEdges"/>
<circle cx="1210.5" cy="539.5" r="5.7" fill="#c8c800" shape-rendering="crispEdges"/>
<path d="M1210.0 533.0h1v13h-1z" fill="#c8c800" shape-rendering="crispEdges"/>
<circle cx="1256.5" cy="539.5" r="5.7" fill="#c8c800" shape-rendering="crispEdges"/>
<path d="M1256.0 533.0h1v13h-1z" fill="#c8c800" shape-rendering="crispEdges"/>
<circle cx="1263.5" cy="539.5" r="5.7" fill="#c8c800" shape-rendering="crispEdges"/>
<path d="M1263.0 533.0h1v13h-1z" fill="#c8c800" shape-rendering="crispEdges"/>
<circle cx="1309.5" cy="539.5" r="5.7" fill="#c8c800" shape-rendering="crispEdges"/>
<path d="M1309.0 533.0h1v13h-1z" fill="#c8c800" shape-rendering="crispEdges"/>
<circle cx="1315.5" cy="539.5" r="5.7" fill="#c8c800" shape-rendering="crispEdges"/>
<path d="M1315.0 533.0h1v13h-1z" fill="#c8c800" shape-rendering="crispEdges"/>
<circle cx="1362.5" cy="539.5" r="5.7" fill="#c8c800" shape-rendering="crispEdges"/>
<path d="M1362.0 533.0h1v13h-1z" fill="#c8c800" shape-rendering="crispEdges"/>
<circle cx="1316.5" cy="186.5" r="5.6" fill="#c8c800" shape-rendering="crispEdges"/>
<path d="M1316.0 180.0h1v13h-1z" fill="#c8c800" shape-rendering="crispEdges"/>
<polygon points="609.9,469.6 618.2,457.2 626.5,469.6" fill="none" stroke="#4169e1" stroke-width="1"/>
<polygon points="720.0,469.6 728.3,457.2 736.6,469.6" fill="none" stroke="#4169e1" stroke-width="1"/>
<polygon points="793.7,469.6 802.0,457.2 810.3,469.6" fill="none" stroke="#4169e1" stroke-width="1"/>
<polygon points="870.0,469.6 878.3,457.2 886.6,469.6" fill="none" stroke="#4169e1" stroke-width="1"/>
<polygon points="1000.2,469.6 1008.5,457.2 1016.8,469.6" fill="none" stroke="#4169e1" stroke-width="1"/>
<polygon points="1029.2,469.6 1037.5,457.2 1045.8,469.6" fill="none" stroke="#4169e1" stroke-width="1"/>
<polygon points="1184.3,469.6 1192.6,457.2 1200.9,469.6" fill="none" stroke="#4169e1" stroke-width="1"/>
<polygon points="1260.2,469.6 1268.5,457.2 1276.8,469.6" fill="none" stroke="#4169e1" stroke-width="1"/>
<polygon points="1280.2,469.6 1288.5,457.2 1296.8,469.6" fill="none" stroke="#4169e1" stroke-width="1"/>
<polygon points="198.1,468.8 206.4,456.4 214.7,468.8" fill="none" stroke="#4169e1" stroke-width="1"/>
<polygon points="1308.2,209.7 1316.5,197.2 1324.8,209.7" fill="none" stroke="#4169e1" stroke-width="1"/>
<polygon points="198.2,414.9 206.5,402.5 214.8,414.9" fill="#ffc020" stroke="none"/>
<polygon points="251.2,414.9 259.5,402.5 267.8,414.9" fill="#ffc020" stroke="none"/>
<polygon points="304.2,414.9 312.5,402.5 320.8,414.9" fill="#ffc020" stroke="none"/>
<polygon points="462.2,414.9 470.5,402.5 478.8,414.9" fill="#ffc020" stroke="none"/>
<polygon points="567.1,414.9 575.4,402.5 583.7,414.9" fill="#ffc020" stroke="none"/>
<polygon points="620.0,414.9 628.3,402.5 636.6,414.9" fill="#ffc020" stroke="none"/>
<polygon points="673.2,414.9 681.5,402.5 689.8,414.9" fill="#ffc020" stroke="none"/>
<polygon points="726.1,414.9 734.4,402.5 742.7,414.9" fill="#ffc020" stroke="none"/>
<polygon points="778.3,414.9 786.6,402.5 794.9,414.9" fill="#ffc020" stroke="none"/>
<polygon points="884.1,414.9 892.4,402.5 900.7,414.9" fill="#ffc020" stroke="none"/>
<polygon points="989.1,414.9 997.4,402.5 1005.7,414.9" fill="#ffc020" stroke="none"/>
<polygon points="1094.1,414.9 1102.4,402.5 1110.7,414.9" fill="#ffc020" stroke="none"/>
<polygon points="1147.0,414.9 1155.3,402.5 1163.6,414.9" fill="#ffc020" stroke="none"/>
<polygon points="1305.0,414.9 1313.3,402.5 1321.6,414.9" fill="#ffc020" stroke="none"/>
<polygon points="1308.2,228.7 1316.5,216.2 1324.8,228.7" fill="#ffc020" stroke="none"/>
<path d="M200.3 371.3h12.5M206.6 365.1v12.5" stroke="#008040" stroke-width="1" fill="none" shape-rendering="crispEdges"/>
<path d="M1310.1 243.5h12.8M1316.5 237.1v12.8" stroke="#008040" stroke-width="1" fill="none" shape-rendering="crispEdges"/>
<polygon points="198.3,335.2 267.7,335.2 259.4,347.7 206.6,347.7" fill="#c080ff"/>
<polygon points="303.5,335.2 479.6,335.2 471.3,347.7 311.8,347.7" fill="#c080ff"/>
<polygon points="566.7,335.2 637.1,335.2 628.8,347.7 575.0,347.7" fill="#c080ff"/>
<polygon points="672.4,335.2 743.7,335.2 735.4,347.7 680.7,347.7" fill="#c080ff"/>
<polygon points="777.4,335.2 900.6,335.2 892.3,347.7 785.7,347.7" fill="#c080ff"/>
<polygon points="990.1,335.2 1111.8,335.2 1103.5,347.7 998.4,347.7" fill="#c080ff"/>
<polygon points="1147.7,335.2 1321.3,335.2 1313.0,347.7 1156.0,347.7" fill="#c080ff"/>
<polygon points="359.3,348.0 360.5,345.6 361.7,348.0" fill="#fff"/>
<polygon points="452.3,348.0 453.5,345.6 454.7,348.0" fill="#fff"/>
<polygon points="716.8,348.0 718.0,345.6 719.2,348.0" fill="#fff"/>
<polygon points="806.3,348.0 807.5,345.6 808.7,348.0" fill="#fff"/>
<polygon points="1070.3,348.0 1071.5,345.6 1072.7,348.0" fill="#fff"/>
<polygon points="1235.3,348.0 1236.5,345.6 1237.7,348.0" fill="#fff"/>
<polygon points="198.2,328.8 206.5,341.2 214.8,328.8" fill="none" stroke="#c080ff" stroke-width="1"/>
<polygon points="1308.2,258.4 1316.5,270.8 1324.8,258.4" fill="none" stroke="#c080ff" stroke-width="1"/>
<polygon points="198.2,347.5 206.5,359.9 214.8,347.5" fill="none" stroke="#306080" stroke-width="1"/>
<polygon points="1308.2,277.4 1316.5,289.8 1324.8,277.4" fill="none" stroke="#306080" stroke-width="1"/>
<line x1="1036.5" y1="330" x2="1036.5" y2="350" stroke="#0080ff" stroke-width="1" shape-rendering="crispEdges"/>
<text y="75.7" x="1063.1 1069.3 1080.2 1090.3 1095.0 1105.2 1115.5 1121.8 1131.2 1140.1 1150.1 1155.1 1160.8 1166.6 1172.7 1182.5 1188.7 1201.1 1210.9 1219.6 1224.2 1234.5 1249.9 1260.0 1265.6">&quot;Ypingresult.txt&quot;using1:2</text>
<text y="94.7" x="1044.4 1050.6 1060.8 1070.9 1075.8 1090.8 1101.2 1107.0 1116.1 1126.3 1136.3 1141.0 1151.2 1161.1 1166.9 1173.0 1182.7 1189.0 1201.3 1211.0 1219.7 1224.4 1234.6 1249.9 1260.0 1265.6">&quot;YTimetcpping.txt&quot;using1:2</text>
<text y="113.7" x="995.3 1001.5 1011.2 1022.8 1032.6 1041.8 1046.7 1057.2 1061.7 1071.9 1081.3 1092.2 1097.2 1103.1 1112.6 1122.6 1127.6 1142.7 1152.3 1160.8 1166.6 1172.7 1182.5 1188.7 1201.1 1210.9 1219.5 1224.2 1234.5 1249.9 1260.0 1265.6">&quot;YCustPingSiteTimes.txt&quot;using1:2</text>
<text y="132.7" x="1050.3 1056.5 1066.2 1075.1 1080.7 1086.1 1090.6 1095.3 1105.4 1115.4 1121.8 1131.2 1140.1 1150.1 1155.1 1160.8 1166.6 1172.7 1182.5 1188.7 1201.1 1210.9 1219.5 1224.2 1234.5 1249.9 1260.0 1265.6">&quot;Yofflineresult.txt&quot;using1:2</text>
<text y="151.7" x="1038.2 1044.4 1055.6 1061.4 1070.5 1080.6 1090.6 1096.1 1100.6 1109.8 1116.1 1125.8 1134.7 1144.7 1151.2 1161.0 1166.7 1172.9 1182.6 1188.9 1201.2 1211.0 1219.6 1224.3 1234.5 1249.9 1260.0 1265.6">&quot;Ytcpoff_record.txt&quot;using1:2</text>
<text y="170.7" x="1078.3 1084.4 1095.1 1104.2 1114.3 1120.8 1125.7 1131.5 1136.7 1151.7 1161.4 1167.1 1173.2 1182.9 1189.2 1201.5 1211.2 1219.8 1224.5 1234.7 1250.0 1260.0 1265.6">&quot;Ycurltime.txt&quot;using1:2</text>
<text y="189.7" x="1048.5 1054.7 1065.4 1074.5 1084.7 1091.2 1095.9 1106.1 1115.9 1125.0 1130.9 1136.1 1151.1 1160.9 1166.6 1172.8 1182.5 1188.8 1201.1 1210.9 1219.6 1224.3 1234.5 1249.9 1260.0 1265.6">&quot;Ycurldnstime.txt&quot;using1:2</text>
<text y="208.7" x="1009.1 1015.3 1024.9 1036.5 1046.3 1055.4 1060.3 1070.8 1075.3 1085.5 1095.1 1105.1 1110.1 1125.1 1134.9 1145.0 1155.5 1161.2 1166.9 1173.0 1182.7 1189.0 1201.3 1211.1 1219.7 1224.4 1234.6 1250.0 1260.0 1265.6">&quot;YCustPingTimeout.txt&quot;using1:2</text>
<text y="227.7" x="1028.1 1034.3 1045.2 1055.2 1059.9 1070.1 1080.6 1086.5 1096.5 1103.0 1113.0 1123.3 1129.1 1138.2 1148.3 1158.3 1168.6 1178.6 1188.9 1201.2 1211.0 1219.7 1224.3 1234.6 1249.9 1260.0 1265.6">&quot;Ypingtargetchange&quot;using1:2</text>
<text y="246.7" x="1040.9 1047.1 1057.7 1069.1 1080.0 1090.0 1094.7 1105.0 1115.2 1121.6 1131.0 1139.9 1150.0 1155.0 1160.7 1166.4 1172.6 1182.4 1188.6 1201.0 1210.8 1219.5 1224.2 1234.4 1249.9 1260.0 1265.6">&quot;YHPpingresult.txt&quot;using1:2</text>
<text y="265.7" x="1022.4 1028.6 1039.6 1049.6 1054.3 1064.6 1075.1 1081.0 1091.1 1097.6 1107.6 1117.9 1123.5 1127.9 1139.0 1145.3 1155.2 1165.8 1171.7 1181.8 1188.6 1201.0 1210.8 1219.5 1224.2 1234.4 1249.9 1260.0 1265.6">&quot;YpingtargetISrouter&quot;using1:2</text>
<text y="284.7" x="1116.9 1123.1 1134.0 1144.1 1153.9 1158.6 1168.9 1178.4 1188.8 1201.2 1211.0 1219.6 1224.3 1234.5 1249.9 1260.0 1265.6">&quot;Ynoipv6&quot;using1:2</text>
<rect x="101.5" y="57.5" width="1265.0" height="482.0" fill="none" stroke="#000" stroke-width="1" shape-rendering="crispEdges"/>
</svg></body></html>
